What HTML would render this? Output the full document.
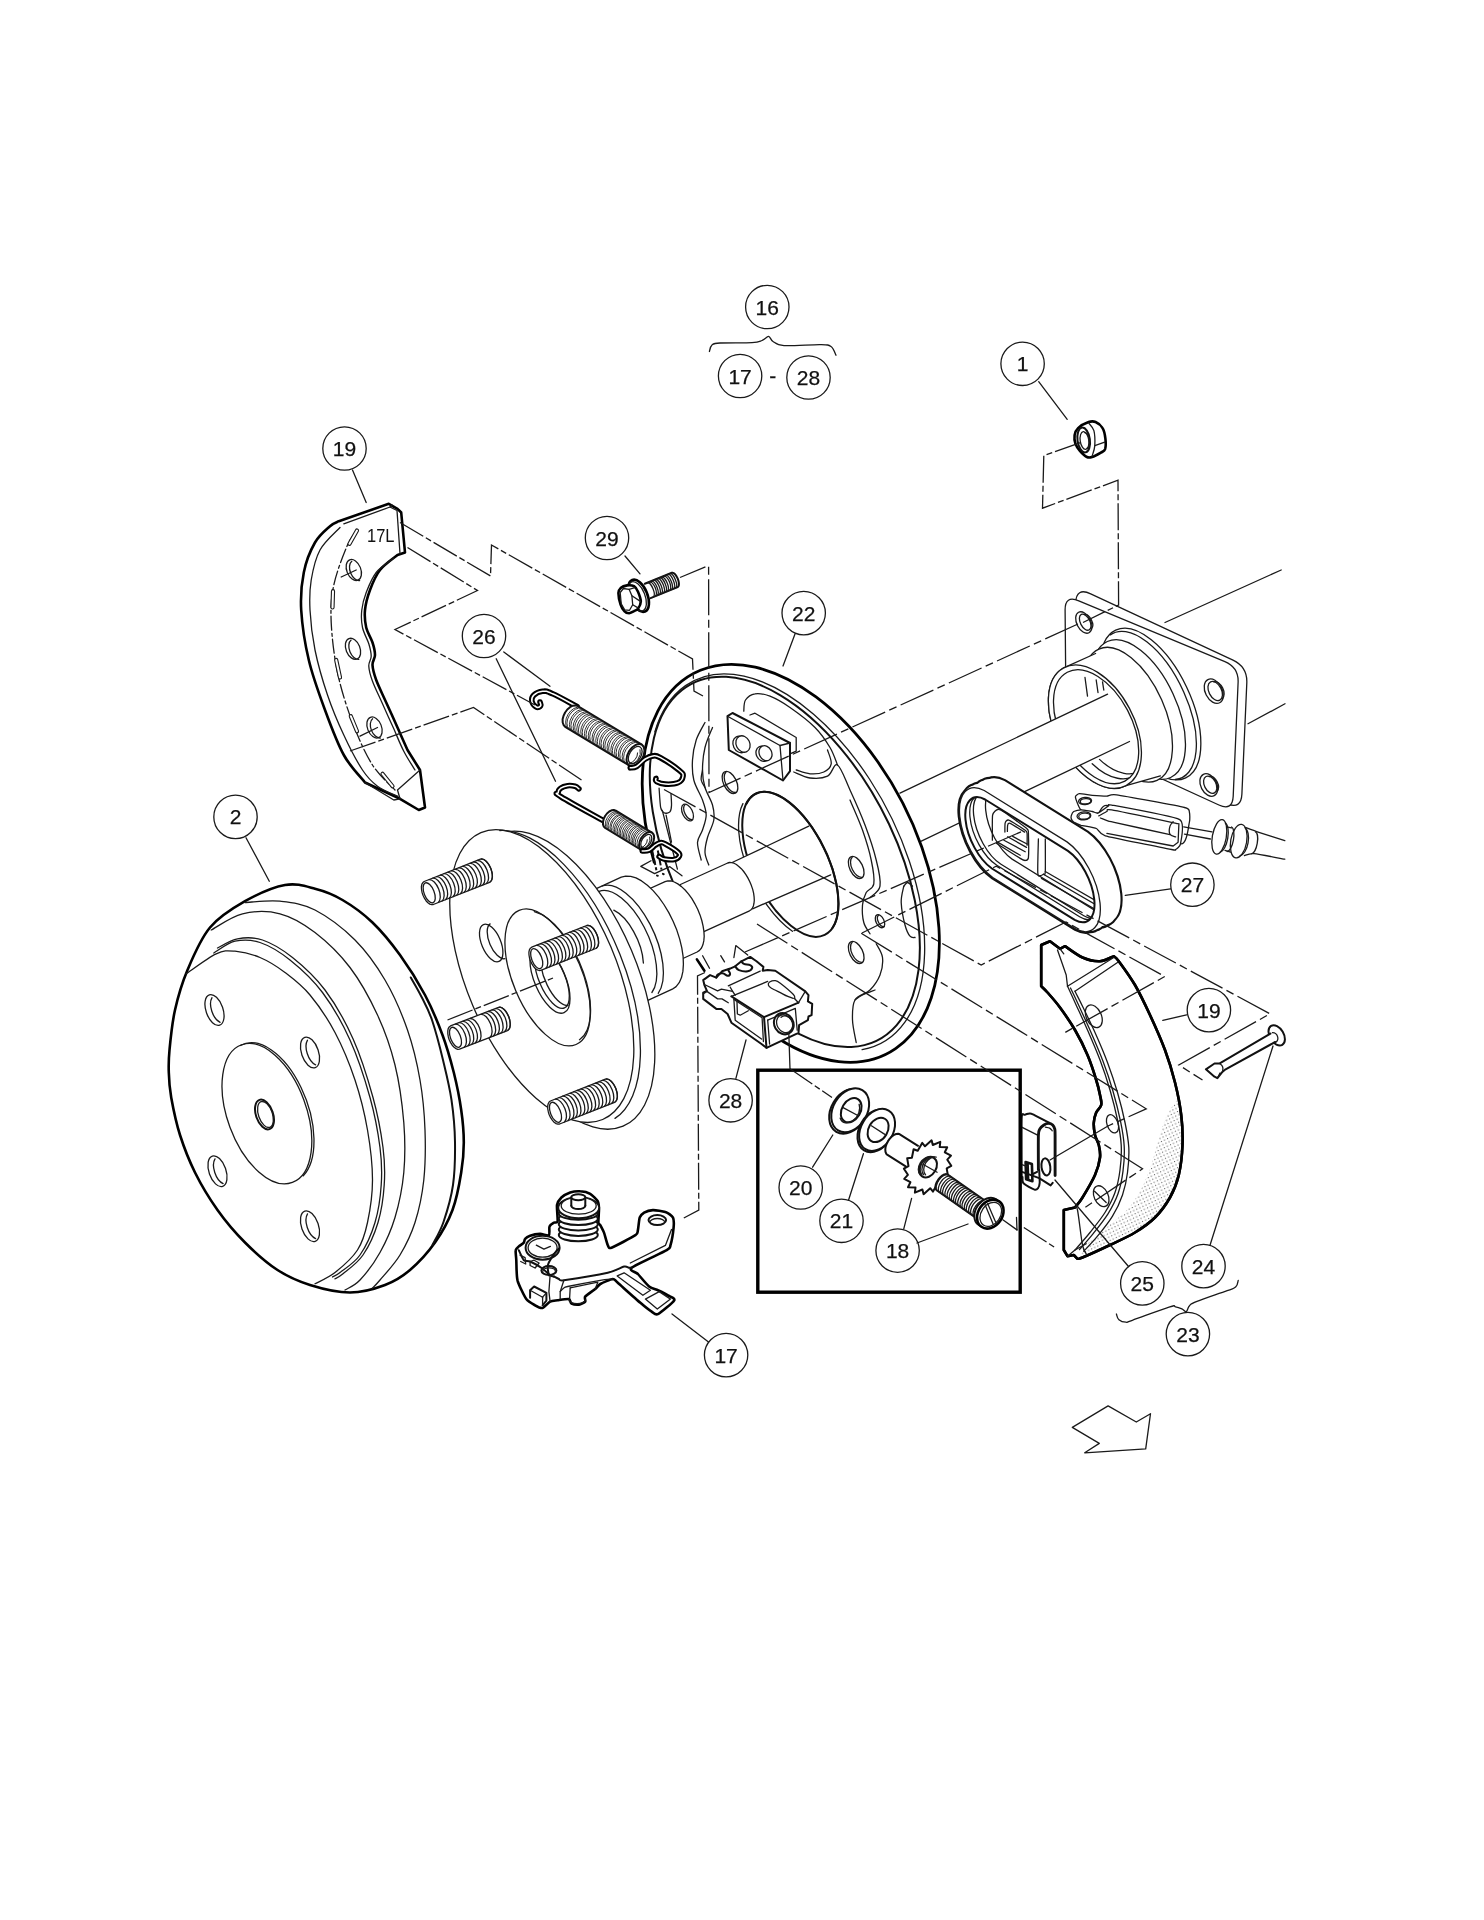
<!DOCTYPE html>
<html><head><meta charset="utf-8"><title>Brake assembly</title>
<style>
html,body{margin:0;padding:0;background:#fff}
svg{display:block;will-change:transform}
.n{fill:none;stroke:#1a1a1a;stroke-width:1.3;stroke-linecap:round;stroke-linejoin:round}
.m{fill:none;stroke:#111;stroke-width:2;stroke-linecap:round;stroke-linejoin:round}
.k{fill:none;stroke:#000;stroke-width:2.6;stroke-linecap:round;stroke-linejoin:round}
.w{fill:#fff}
.d{fill:none;stroke:#1a1a1a;stroke-width:1.3;stroke-dasharray:27 3 6 3}
.d2{stroke-dasharray:36 4.5 8 4.5}
.dk{fill:none;stroke:#111;stroke-width:2;stroke-dasharray:6.5 2.2}
.co{fill:#fff;stroke:#1a1a1a;stroke-width:1.3}
.ct{font-family:"Liberation Sans",Arial,sans-serif;font-size:21px;text-anchor:middle;fill:#111;stroke:#111;stroke-width:0.25px}
.t17{font-family:"Liberation Sans",Arial,sans-serif;font-size:18.3px;fill:#111}
.wire{fill:none;stroke:#000;stroke-width:5.6;stroke-linecap:round;stroke-linejoin:round}
.wirew{fill:none;stroke:#fff;stroke-width:1.5;stroke-linecap:round;stroke-linejoin:round}
.slot{fill:none;stroke:#1a1a1a;stroke-width:4.2;stroke-linecap:round}
.slotw{fill:none;stroke:#fff;stroke-width:2;stroke-linecap:round}
</style></head><body>
<svg width="1484" height="1920" viewBox="0 0 1484 1920">
<rect width="1484" height="1920" fill="#fff"/>
<path class="k w" d="M285 885 C273.3 887.1 257.5 894.2 245 901.2 C232.5 908.3 219.6 916 210 927.5 C200.4 939 193.3 956.2 187.5 970 C181.7 983.8 178 996.7 175 1010 C172 1023.3 170.5 1039.6 169.5 1050 C168.5 1060.4 168.5 1064.6 168.8 1072.5 C169 1080.4 169.4 1087.1 171.2 1097.5 C173.1 1107.9 176 1122.5 180 1135 C184 1147.5 188.8 1160 195 1172.5 C201.2 1185 209.2 1198.3 217.5 1210 C225.8 1221.7 235 1232.5 245 1242.5 C255 1252.5 266.7 1262.9 277.5 1270 C288.3 1277.1 297.9 1281.2 310 1285 C322.1 1288.8 337.5 1292.5 350 1292.5 C362.5 1292.5 375 1288.8 385 1285 C395 1281.2 401.7 1277.1 410 1270 C418.3 1262.9 427.9 1252.5 435 1242.5 C442.1 1232.5 448.1 1221.7 452.5 1210 C456.9 1198.3 459.4 1183.8 461.2 1172.5 C463.1 1161.2 463.8 1152.9 463.8 1142.5 C463.8 1132.1 462.9 1121.7 461.2 1110 C459.6 1098.3 456.9 1085 453.8 1072.5 C450.6 1060 447.3 1047.9 442.5 1035 C437.7 1022.1 432.1 1008.3 425 995 C417.9 981.7 408.8 967.1 400 955 C391.2 942.9 382.1 931.7 372.5 922.5 C362.9 913.3 352.1 905.6 342.5 900 C332.9 894.4 324.6 891.2 315 888.8 C305.4 886.2 296.7 882.9 285 885Z"/>
<path class="n" d="M186.2 973.8 C191.2 970.4 208.1 957.5 216.2 953.8 C224.4 950 227.7 950.6 235 951.2 C242.3 951.9 251.7 954 260 957.5 C268.3 961 276.7 966.2 285 972.5 C293.3 978.8 301.7 985 310 995 C318.3 1005 327.5 1018.3 335 1032.5 C342.5 1046.7 349.6 1063.8 355 1080 C360.4 1096.2 364.6 1113.3 367.5 1130 C370.4 1146.7 372.5 1164.6 372.5 1180 C372.5 1195.4 370 1210.8 367.5 1222.5 C365 1234.2 362.9 1241.7 357.5 1250 C352.1 1258.3 342.1 1266.9 335 1272.5 C327.9 1278.1 318.3 1281.9 315 1283.8"/>
<path class="n" d="M213.8 953 C217.3 951 227.3 943 235 941.2 C242.7 939.5 250.8 939.4 260 942.5 C269.2 945.6 279.6 951.7 290 960 C300.4 968.3 312.5 979.2 322.5 992.5 C332.5 1005.8 342.1 1022.5 350 1040 C357.9 1057.5 365 1079.6 370 1097.5 C375 1115.4 378.1 1132.9 380 1147.5 C381.9 1162.1 382.1 1172.5 381.2 1185 C380.4 1197.5 378.5 1210.8 375 1222.5 C371.5 1234.2 365.8 1246.7 360 1255 C354.2 1263.3 344.6 1268.8 340 1272.5 C335.4 1276.2 333.8 1276.2 332.5 1277"/>
<path class="n" d="M217.5 948 C220.8 946.5 230 940.1 237.5 938.8 C245 937.4 253.3 936.9 262.5 940 C271.7 943.1 282.1 949.2 292.5 957.5 C302.9 965.8 314.9 976.5 325 990 C335.1 1003.5 345 1020.8 353 1038.8 C361 1056.7 368 1079.4 373 1097.5 C378 1115.6 381.1 1132.9 383 1147.5 C384.9 1162.1 385.1 1172.5 384.2 1185 C383.4 1197.5 381.5 1210.8 378 1222.5 C374.5 1234.2 368.8 1246.5 363 1255 C357.2 1263.5 347.7 1269.8 343 1273.8 C338.3 1277.7 336.3 1277.9 335 1278.8"/>
<path class="n" d="M211.2 930 C216.5 927.3 231 916.5 242.5 913.8 C254 911 267.9 910.6 280 913.8 C292.1 916.9 303.3 923.5 315 932.5 C326.7 941.5 339.6 953.8 350 967.5 C360.4 981.2 370 998.8 377.5 1015 C385 1031.2 390.6 1047.1 395 1065 C399.4 1082.9 402.3 1104.6 403.8 1122.5 C405.2 1140.4 405.2 1156.7 403.8 1172.5 C402.3 1188.3 399 1204.2 395 1217.5 C391 1230.8 385.8 1242.1 380 1252.5 C374.2 1262.9 365.8 1273.8 360 1280 C354.2 1286.2 347.5 1288.3 345 1290"/>
<path class="n" d="M245 902.5 C250.8 902.3 268.3 900 280 901.2 C291.7 902.5 302.5 903.5 315 910 C327.5 916.5 343.3 928.3 355 940 C366.7 951.7 376.2 965 385 980 C393.8 995 401.7 1013.3 407.5 1030 C413.3 1046.7 417.1 1063.3 420 1080 C422.9 1096.7 424.4 1113.3 425 1130 C425.6 1146.7 425.4 1164.6 423.8 1180 C422.1 1195.4 419 1210 415 1222.5 C411 1235 405.8 1245.4 400 1255 C394.2 1264.6 384.6 1274.5 380 1280 C375.4 1285.5 373.8 1286.7 372.5 1288"/>
<path class="m" d="M410.8 977.5 C412.5 980.6 417.7 989.2 421.2 996.2 C424.8 1003.3 428.4 1009.4 432 1020 C435.6 1030.6 439.8 1046.7 443 1060 C446.2 1073.3 449.5 1086.3 451.5 1100 C453.5 1113.7 454.8 1127.8 455 1142 C455.2 1156.2 454.9 1171.7 453 1185 C451.1 1198.3 446.9 1212 443.5 1222 C440.1 1232 434.3 1241.2 432.5 1245"/>
<ellipse class="n" cx="266.9" cy="1113.6" rx="39.4" ry="73.4" transform="rotate(-20.3 266.9 1113.6)"/>
<path class="n" d="M240.5 1045.5 A39.4 73.4 -20.3 0 1 303.3 1175.8"/>
<ellipse class="m" cx="264.5" cy="1114.5" rx="8.5" ry="15.5" transform="rotate(-19 264.5 1114.5)"/>
<ellipse class="n" cx="265.5" cy="1114.5" rx="7" ry="13.5" transform="rotate(-19 265.5 1114.5)"/>
<ellipse class="n" cx="214.5" cy="1010" rx="8.5" ry="16" transform="rotate(-19 214.5 1010)"/>
<path class="n" d="M220.1 1022.3 A8 14.5 -19 0 1 212 997.7"/>
<ellipse class="n" cx="310" cy="1052.5" rx="8.5" ry="16" transform="rotate(-19 310 1052.5)"/>
<path class="n" d="M315.6 1064.8 A8 14.5 -19 0 1 307.5 1040.2"/>
<ellipse class="n" cx="217.5" cy="1171.2" rx="8.5" ry="16" transform="rotate(-19 217.5 1171.2)"/>
<path class="n" d="M223.1 1183.6 A8 14.5 -19 0 1 215 1158.9"/>
<ellipse class="n" cx="310" cy="1226.2" rx="8.5" ry="16" transform="rotate(-19 310 1226.2)"/>
<path class="n" d="M315.6 1238.6 A8 14.5 -19 0 1 307.5 1213.9"/>
<path class="k w" d="M338.8 521.2 C337.3 522.1 334 522.7 330 526.2 C326 529.8 319.4 534.8 315 542.5 C310.6 550.2 306 561.2 303.8 572.5 C301.5 583.8 300.4 595.4 301.2 610 C302.1 624.6 304.8 643.3 308.8 660 C312.7 676.7 319.2 694.2 325 710 C330.8 725.8 337.1 742.9 343.8 755 C350.4 767.1 361.5 777.9 365 782.5 L400 798.8 L418.8 810 L425 807.5 L420 770 L407.5 750 C405.8 746.2 401 735.4 397.5 727.5 C394 719.6 389.8 710.4 386.2 702.5 C382.7 694.6 378.5 686.2 376.2 680 C374 673.8 372.7 669.2 372.5 665 C372.3 660.8 375 658.8 375 655 C375 651.2 374 647.1 372.5 642.5 C371 637.9 367.5 632.9 366.2 627.5 C365 622.1 364.4 616.2 365 610 C365.6 603.8 367.5 596.7 370 590 C372.5 583.3 375.4 575.8 380 570 C384.6 564.2 394.6 557.5 397.5 555 L405 552.5 L401.2 512.5 L397.5 508.8 L388.8 503.8Z"/>
<path class="n" d="M340 527.5 C336.7 531.2 324.8 541.2 320 550 C315.2 558.8 312.9 570 311.2 580 C309.6 590 309.4 598.3 310 610 C310.6 621.7 312.1 635.8 315 650 C317.9 664.2 322.7 680.8 327.5 695 C332.3 709.2 337.9 722.5 343.8 735 C349.6 747.5 356.9 761.5 362.5 770 C368.1 778.5 371.7 781.9 377.5 786.2 C383.3 790.6 394.2 794.6 397.5 796.2"/>
<path class="n" d="M393.8 558 C390.8 560.4 380.8 566.8 376.2 572.5 C371.7 578.2 368.7 586.2 366.2 592.5 C363.8 598.8 362.4 604.2 361.8 610 C361.1 615.8 361.3 621.9 362.5 627.5 C363.7 633.1 367.3 639 368.8 643.8 C370.2 648.5 371.2 652.5 371.2 656.2 C371.2 660 368.5 662.1 368.8 666.2 C369 670.4 370.2 675 372.5 681.2 C374.8 687.5 379 695.8 382.5 703.8 C386 711.7 390.2 720.8 393.8 728.8 C397.3 736.7 400.2 744.4 403.8 751.2 C407.3 758.1 413.1 766.9 415 770"/>
<path class="n" d="M357.5 530 C355.8 532.5 351.5 535.8 347.5 545 C343.5 554.2 336.5 572.1 333.8 585 C331 597.9 330.6 607.9 331.2 622.5 C331.9 637.1 334 655.8 337.5 672.5 C341 689.2 346.7 707.1 352.5 722.5 C358.3 737.9 365.4 753.8 372.5 765 C379.6 776.2 391.2 785.8 395 790" style="stroke-dasharray:14 3 3 3"/>
<path class="slot" d="M357 530.5 L349.5 543.8"/>
<path class="slotw" d="M357 530.5 L349.5 543.8"/>
<path class="slot" d="M333 591.2 L332.5 607.5"/>
<path class="slotw" d="M333 591.2 L332.5 607.5"/>
<path class="slot" d="M336.2 660 L340 677.5"/>
<path class="slotw" d="M336.2 660 L340 677.5"/>
<path class="slot" d="M350.8 716.2 L357 731.2"/>
<path class="slotw" d="M350.8 716.2 L357 731.2"/>
<path class="slot" d="M382.5 773.8 L392.5 786.2"/>
<path class="slotw" d="M382.5 773.8 L392.5 786.2"/>
<ellipse class="n" cx="353.8" cy="570" rx="7" ry="11" transform="rotate(-22 353.8 570)"/>
<path class="n" d="M359.6 580.5 A6.5 10.5 -22 0 1 351.8 561.3"/>
<ellipse class="n" cx="353" cy="648.8" rx="7" ry="11" transform="rotate(-22 353 648.8)"/>
<path class="n" d="M358.8 659.3 A6.5 10.5 -22 0 1 351.1 640.1"/>
<ellipse class="n" cx="374.5" cy="727.5" rx="7" ry="11" transform="rotate(-22 374.5 727.5)"/>
<path class="n" d="M380.3 738 A6.5 10.5 -22 0 1 372.6 718.8"/>
<path class="n" d="M341.2 577 L356.2 570"/>
<path class="n" d="M360 736.2 L377.5 727.5"/>
<path class="n" d="M343.8 523.8 L390 507 L397 510.5 L400 553.8"/>
<path class="n" d="M390 507 L392 505"/>
<text class="t17" x="367" y="542" textLength="27.5" lengthAdjust="spacingAndGlyphs">17L</text>
<path class="n" d="M365 782.5 L393.8 800 L400 798.8"/>
<path class="n" d="M400 798.8 L397.5 790 L420 770"/>
<path class="n" d="M1165 622.5 L1281.2 570"/>
<path class="n" d="M1248 723.8 L1285 703.8"/>
<path class="n w" d="M1075.6 603 Q1076.2 587 1090.7 593.8 L1233 660.2 Q1247.5 667 1246.8 683 L1241.9 794 Q1241.2 810 1226.6 803.6 L1084.7 741.4 Q1070 735 1070.7 719 Z"/>
<path class="n w" d="M1065.1 610 Q1065 595 1078.8 600.8 L1224.9 661.7 Q1238.8 667.5 1238.1 682.5 L1233.2 796.3 Q1232.5 811.2 1218.9 805 L1079.9 741.3 Q1066.2 735 1066.1 720 Z"/>
<ellipse class="n w" cx="1150.7" cy="704" rx="39.7" ry="81.7" transform="rotate(-25.4 1150.7 704)"/>
<path class="n" d="M1110.3 634.9 A38.5 80 -25.4 1 1 1175.3 779.5"/>
<ellipse class="n w" cx="1139" cy="709.5" rx="37.5" ry="75" transform="rotate(-25 1139 709.5)"/>
<ellipse class="n w" cx="1128" cy="714.7" rx="36.8" ry="71.8" transform="rotate(-23.9 1128 714.7)"/>
<path class="n w" d="M1095.6 653.5 L1063.7 667.8 L1063.7 667.8 L1059.5 670.7 L1055.9 674.6 L1052.9 679.3 L1050.6 684.9 L1049.1 691.1 L1048.4 698 L1048.5 705.4 L1049.4 713.1 L1051 721.1 L1053.5 729.1 L1056.6 737.2 L1060.3 745 L1064.7 752.5 L1069.6 759.6 L1074.9 766.1 L1080.6 772 L1086.5 777 L1092.5 781.3 L1098.6 784.5 L1104.6 786.8 L1110.5 788.1 L1116.1 788.3 L1121.3 787.4 L1126.1 785.6 L1160.4 775.9"/>
<ellipse class="n w" cx="1094.9" cy="726.7" rx="39.1" ry="66.6" transform="rotate(-27.9 1094.9 726.7)"/>
<ellipse class="n" cx="1096.1" cy="726.7" rx="35.5" ry="61.6" transform="rotate(-27.9 1096.1 726.7)"/>
<clipPath id="bore"><ellipse cx="1096.1" cy="726.7" rx="35.5" ry="61.6" transform="rotate(-27.9 1096.1 726.7)"/></clipPath>
<g clip-path="url(#bore)">
<path class="n" d="M1140.4 715.8 A35.1 60.6 -27.9 0 1 1092.2 763.7"/>
<path class="n" d="M1146.3 713 A34.1 58.6 -27.9 0 1 1099.5 759.4"/>
</g>
<path class="n" d="M1085 677.5 L1087.5 696.2"/>
<path class="n" d="M1096.2 680 L1098 692.5"/>
<path class="n" d="M1102.5 681.8 L1103.8 690"/>
<ellipse class="n" cx="1083.8" cy="622.5" rx="7" ry="11.5" transform="rotate(-27 1083.8 622.5)"/>
<ellipse class="n" cx="1085.2" cy="622.2" rx="4.8" ry="8.7" transform="rotate(-27 1085.2 622.2)"/>
<path class="n" d="M1084.4 614.5 A4.5 8 -27 0 1 1091.5 628.6"/>
<ellipse class="n" cx="1213.8" cy="691.2" rx="8.5" ry="13" transform="rotate(-27 1213.8 691.2)"/>
<ellipse class="n" cx="1215.2" cy="691" rx="6.3" ry="10.2" transform="rotate(-27 1215.2 691)"/>
<path class="n" d="M1213.9 681.8 A6 9.5 -27 0 1 1222.4 698.5"/>
<ellipse class="n" cx="1208.8" cy="785" rx="8" ry="12" transform="rotate(-27 1208.8 785)"/>
<ellipse class="n" cx="1210.2" cy="784.7" rx="5.8" ry="9.2" transform="rotate(-27 1210.2 784.7)"/>
<path class="n" d="M1209.3 776.5 A5.5 8.5 -27 0 1 1216.9 791.4"/>
<path class="w" d="M900 793.1 L1107.6 694.2 L1129.5 741.5 L915 844.2Z" style="stroke:none"/>
<path class="n" d="M900 793.1 L1107.6 694.2"/>
<path class="n" d="M915 844.2 L1129.5 741.5"/>
<path class="n" d="M992.8 877.5 A24.6 51.2 -25 0 1 984.2 790.5 L1067 841.9 A24.6 51.2 -25 0 1 1075.6 928.9 Z M996.1 876 A24.6 51.2 -25 0 1 987.6 788.9 L1070.4 840.3 A24.6 51.2 -25 0 1 1078.9 927.4 Z M999.5 874.4 A24.6 51.2 -25 0 1 991 787.3 L1073.8 838.7 A24.6 51.2 -25 0 1 1082.3 925.8 Z M1002.9 872.8 A24.6 51.2 -25 0 1 994.3 785.8 L1077.1 837.2 A24.6 51.2 -25 0 1 1085.7 924.2 Z M1006.2 871.3 A24.6 51.2 -25 0 1 997.7 784.2 L1080.5 835.6 A24.6 51.2 -25 0 1 1089 922.7 Z M1009.6 869.7 A24.6 51.2 -25 0 1 1001.1 782.6 L1083.9 834 A24.6 51.2 -25 0 1 1092.4 921.1 Z M1013 868.1 A24.6 51.2 -25 0 1 1004.4 781.1 L1087.2 832.5 A24.6 51.2 -25 0 1 1095.8 919.5 Z" style="stroke-width:4.2;stroke:#111"/>
<path class="w" d="M992.8 877.5 A24.6 51.2 -25 0 1 984.2 790.5 L1067 841.9 A24.6 51.2 -25 0 1 1075.6 928.9 Z M996.1 876 A24.6 51.2 -25 0 1 987.6 788.9 L1070.4 840.3 A24.6 51.2 -25 0 1 1078.9 927.4 Z M999.5 874.4 A24.6 51.2 -25 0 1 991 787.3 L1073.8 838.7 A24.6 51.2 -25 0 1 1082.3 925.8 Z M1002.9 872.8 A24.6 51.2 -25 0 1 994.3 785.8 L1077.1 837.2 A24.6 51.2 -25 0 1 1085.7 924.2 Z M1006.2 871.3 A24.6 51.2 -25 0 1 997.7 784.2 L1080.5 835.6 A24.6 51.2 -25 0 1 1089 922.7 Z M1009.6 869.7 A24.6 51.2 -25 0 1 1001.1 782.6 L1083.9 834 A24.6 51.2 -25 0 1 1092.4 921.1 Z M1013 868.1 A24.6 51.2 -25 0 1 1004.4 781.1 L1087.2 832.5 A24.6 51.2 -25 0 1 1095.8 919.5 Z" style="stroke:none"/>
<path class="n" d="M992.8 877.5 A24.6 51.2 -25 0 1 984.2 790.5 L1067 841.9 A24.6 51.2 -25 0 1 1075.6 928.9 Z"/>
<clipPath id="rtc"><path d="M991.9 868.5 A19.5 40.6 -25 0 1 985.1 799.5 L1067.9 850.9 A19.5 40.6 -25 0 1 1074.7 919.9 Z"/></clipPath>
<g clip-path="url(#rtc)">
<path class="n" d="M1012.1 859.1 A19.5 40.6 -25 0 1 1005.3 790.1 L1088.1 841.5 A19.5 40.6 -25 0 1 1094.9 910.5 Z"/>
<path class="n" d="M1001 864.3 A19.5 40.6 -25 0 1 994.2 795.2 L1077 846.6 A19.5 40.6 -25 0 1 1083.8 915.7 Z"/>
<path class="n" d="M996.8 865.3 A19 39.6 -25 0 1 990.3 798 L1073.1 849.4 A19 39.6 -25 0 1 1079.6 916.7 Z"/>
<path class="n" d="M992.4 840.2 C992.4 837.7 992.1 818.2 992.6 815.1 C993.2 812.1 996.5 809.8 997.6 809.5 C998.8 809.2 1001 810.1 1003.9 812 C1006.8 813.9 1024 826.2 1026.5 828.3 C1028.9 830.4 1028.2 829.7 1028.4 832.7 C1028.5 835.6 1028.7 855 1028.4 857.8 C1028 860.5 1026 860.4 1025.2 860.5 C1024.4 860.6 1023.1 860.1 1020.2 858.4 C1017.3 856.7 998.8 844.8 996.4 843.3"/>
<path class="n" d="M1004.9 832.1 C1004.9 831.1 1004.8 823.8 1005.2 822.7 C1005.6 821.5 1006.9 819.4 1008.9 820.2 C1010.9 820.9 1023.4 828.9 1025.2 830.2 C1027 831.5 1026.9 831.8 1027.1 833.3 C1027.3 834.8 1027.1 844 1027.1 845.2"/>
<path class="n" d="M1007.4 831.4 C1007.4 830.8 1007.4 825.7 1007.7 824.9 C1007.9 824.1 1008.5 822.6 1010.2 823.3 C1011.9 824 1023.2 831.2 1024.6 832.1"/>
<path class="n" d="M1003.9 840.2 L1025.2 851.7"/>
<path class="n" d="M1007.7 836.7 L1026.5 847.4"/>
<path class="n" d="M1012.7 836.4 L1027.1 844"/>
<path class="n" d="M997.6 842.1 L1020.2 855.2"/>
<path class="n" d="M1038.4 839 C1038.3 843.5 1037.5 867.9 1037.8 872.8 C1038 877.7 1039.5 875.4 1040.3 875.6 C1041 875.8 1042.7 874.8 1043.4 874.3 C1044.1 873.8 1045 876.3 1045.3 871.5 C1045.5 866.8 1045.3 843.3 1045.3 839"/>
<path class="n" d="M1043.4 874.3 L1100.4 907.3"/>
<path class="n" d="M1041.5 878.4 L1097.9 911"/>
<path class="n" d="M1045.3 871.5 L1101.7 904.1"/>
</g>
<path class="m" d="M991.9 868.5 A19.5 40.6 -25 0 1 985.1 799.5 L1067.9 850.9 A19.5 40.6 -25 0 1 1074.7 919.9 Z"/>
<path class="n w" d="M1075.4 797 C1075.2 795.6 1078 793.9 1079.4 793.7 C1080.8 793.6 1090.1 795.2 1092.3 795.4 C1094.6 795.6 1104.9 796.2 1106.9 796.2 C1108.9 796.1 1110.1 793.9 1116.6 794.9 C1123.1 795.8 1178.5 806 1184.5 807.5 C1190.6 809 1189 811.1 1189.4 812.3 C1189.8 813.6 1190.1 819.4 1189.4 822.1 C1188.6 824.7 1187.2 845.2 1180.5 843.9 C1173.8 842.5 1115.4 808.4 1108.5 805.9 C1101.6 803.3 1100.3 812.8 1098 813.2 C1095.7 813.5 1082.9 811.3 1081 809.9 C1079.1 808.6 1075.5 798.3 1075.4 797Z"/>
<ellipse class="n" cx="1085.1" cy="801" rx="6.5" ry="3.6" transform="rotate(-5 1085.1 801)"/>
<ellipse class="n" cx="1085.6" cy="801.3" rx="5.3" ry="2.6" transform="rotate(-5 1085.6 801.3)"/>
<path class="n" d="M1183.7 826.9 L1212 831.8"/>
<path class="n" d="M1184.5 834.2 L1210.4 839"/>
<path class="n w" d="M1071.3 815.6 C1071.5 815 1072.9 812 1073.7 811.5 C1074.6 811.1 1079.5 809.9 1081 809.9 C1082.6 809.9 1090.9 811.3 1092.3 811.5 C1093.8 811.8 1096.7 813.6 1098 813.2 C1099.4 812.7 1107.4 806.6 1108.5 805.9 C1109.7 805.2 1105.8 803.9 1111.8 805.1 C1117.7 806.2 1174 816.4 1179.7 819.6 C1185.4 822.9 1180.8 841.4 1180.5 843.9 C1180.2 846.4 1176.4 849.1 1175.6 849.5 C1174.9 850 1177.5 850.7 1171.6 849.5 C1165.7 848.4 1111.6 837.6 1105.3 835.8 C1099 834 1098.4 829.4 1096.4 828.5 C1094.4 827.6 1082.9 825.8 1081 825.3 C1079.1 824.7 1074.6 822.6 1073.7 822.1 C1072.9 821.5 1071.5 819.4 1071.3 818.8 C1071.1 818.3 1071.1 816.2 1071.3 815.6Z"/>
<ellipse class="n" cx="1083.9" cy="815.9" rx="6.9" ry="4" transform="rotate(-5 1083.9 815.9)"/>
<ellipse class="n" cx="1084.4" cy="816.2" rx="5.7" ry="3" transform="rotate(-5 1084.4 816.2)"/>
<path class="n" d="M1098.8 815.9 C1099.6 815.5 1105.6 812.1 1106.9 811.5 C1108.2 810.9 1104.6 808.7 1111.8 809.9 C1118.9 811.1 1171.4 822.3 1178.1 823.7"/>
<path class="n" d="M1100.4 818 C1101.2 818.3 1107.1 820.8 1108.5 821.2 C1109.9 821.7 1108 821 1114.2 822.4 C1120.3 823.7 1164.4 833.4 1170 834.7"/>
<path class="n" d="M1173.2 821.7 C1172.7 822.5 1170.5 824 1170 826.1 C1169.4 828.2 1169 832.4 1170 834.2 C1170.9 836 1174.7 836.5 1175.6 836.9"/>
<path class="n" d="M1106.9 833.4 L1173.2 846 L1178.1 842.3 L1178.9 823.7"/>
<ellipse class="n w" cx="1219.3" cy="836.9" rx="7" ry="17.5" transform="rotate(10 1219.3 836.9)"/>
<path class="n" d="M1225.4 823.1 A6 15 10 0 1 1220.3 852.2"/>
<ellipse class="n w" cx="1238.7" cy="841.1" rx="8" ry="17" transform="rotate(10 1238.7 841.1)"/>
<path class="n" d="M1244.9 827.8 A7 14.5 10 0 1 1239.9 855.9"/>
<path class="n" d="M1226.6 826.9 L1231.4 827.9"/>
<path class="n" d="M1225 850.4 L1230.6 852"/>
<path class="n" d="M1231.6 827 A4.5 12.5 10 0 1 1227.2 851.5"/>
<path class="n" d="M1246 827.7 C1247.5 828.3 1252.1 830 1257.3 831.8 C1262.5 833.5 1281.1 839.5 1284.8 840.7"/>
<path class="n" d="M1244.4 855.7 C1245.7 855.4 1248.7 853.1 1254.1 853.6 C1259.5 854.1 1280.7 858.5 1284.8 859.2"/>
<path class="n" d="M1255.5 832 A4 11 10 0 1 1251.7 853.6"/>
<ellipse class="w" cx="790.8" cy="863.4" rx="127.1" ry="213.3" transform="rotate(-26.7 790.8 863.4)" style="stroke:none"/>
<path class="k" d="M654.2 862.3 A127.1 213.3 -26.7 1 1 778.3 1038.5" style="stroke-width:2.8"/>
<path class="m" d="M675.3 887.8 A110.1 201 -27.7 1 1 798.4 1033.6"/>
<path class="n" d="M654.9 731.8 A113.5 204 -27.5 1 1 862.1 1049.6"/>
<ellipse class="m w" cx="790.3" cy="864.3" rx="37.3" ry="78.5" transform="rotate(-26 790.3 864.3)"/>
<path class="n" d="M792.4 931.3 A38 80 -26 0 1 742.9 803.6"/>
<ellipse class="n" cx="730" cy="782.5" rx="6.5" ry="12" transform="rotate(-26 730 782.5)"/>
<path class="n" d="M736 792.4 A6.5 11.5 -26 0 1 726 772"/>
<ellipse class="n" cx="856.2" cy="867.5" rx="6.5" ry="12" transform="rotate(-26 856.2 867.5)"/>
<path class="n" d="M862.2 877.4 A6.5 11.5 -26 0 1 852.3 857"/>
<ellipse class="n" cx="856.2" cy="952.5" rx="6.5" ry="12" transform="rotate(-26 856.2 952.5)"/>
<path class="n" d="M862.2 962.4 A6.5 11.5 -26 0 1 852.3 942"/>
<ellipse class="n" cx="687.5" cy="812.5" rx="5" ry="9" transform="rotate(-26 687.5 812.5)"/>
<path class="n" d="M692.4 819.6 A5 8.5 -26 0 1 685.1 804.6"/>
<ellipse class="n" cx="880" cy="921.2" rx="4" ry="7" transform="rotate(-26 880 921.2)"/>
<path class="n" d="M884.2 926.5 A4 6.5 -26 0 1 878.6 915"/>
<path class="n w" d="M750 715 L755 713.2 L796.2 737.5 L796.2 751.2 L790 753.8 L790 742.5"/>
<path class="m w" d="M727.5 716.2 L732.5 713 L790 743 L790 771.2 L783 780.5 L728.8 750Z"/>
<path class="n" d="M727.5 716.2 L780 745.5 L783 780.5"/>
<path class="n" d="M780 745.5 L790 743"/>
<ellipse class="n" cx="740" cy="744.5" rx="6.8" ry="8.5" transform="rotate(-26 740 744.5)"/>
<ellipse class="n w" cx="743" cy="744" rx="6.8" ry="8.5" transform="rotate(-26 743 744)"/>
<ellipse class="n" cx="762.5" cy="753.8" rx="6.2" ry="7.8" transform="rotate(-26 762.5 753.8)"/>
<ellipse class="n w" cx="765.5" cy="753.2" rx="6.2" ry="7.8" transform="rotate(-26 765.5 753.2)"/>
<path class="n" d="M743.8 711.2 C744 709.4 743.6 702.9 745.5 700 C747.4 697.1 750.9 694.4 755 693.8 C759.1 693.1 764.2 694 770 696.2 C775.8 698.5 782.5 702.3 790 707.5 C797.5 712.7 808.3 720.8 815 727.5 C821.7 734.2 826.2 741.2 830 747.5 C833.8 753.8 836.2 762.1 837.5 765"/>
<path class="n" d="M793.8 772 C796.5 773 804.4 777.3 810 778 C815.6 778.7 822.9 778.4 827.5 776.2 C832.1 774.1 833.8 762.7 837.5 765 C841.2 767.3 845.4 780 850 790 C854.6 800 860.6 813.3 865 825 C869.4 836.7 873.8 849.8 876.2 860 C878.8 870.2 881 880 880 886.2 C879 892.5 871.7 895.6 870 897.5"/>
<path class="n" d="M796.2 770 C798.5 770.6 805.4 773.4 810 773.8 C814.6 774.1 820.2 773.7 823.8 772 C827.3 770.3 830.6 767.4 831.2 763.8 C831.9 760.1 828.1 752.3 827.5 750"/>
<path class="n" d="M850 800 C852.1 805 859 820 862.5 830 C866 840 869.4 851 871.2 860 C873.1 869 874.6 878.3 873.8 883.8 C872.9 889.2 868.1 889 866.2 892.5 C864.4 896 862.9 900 862.5 905 C862.1 910 862.5 917.7 863.8 922.5 C865 927.3 869 931.9 870 933.8"/>
<path class="n" d="M876.2 943.8 C877.3 946 881.9 952.3 882.5 957.5 C883.1 962.7 882.1 969.6 880 975 C877.9 980.4 874.2 985.8 870 990 C865.8 994.2 857.9 995 855 1000 C852.1 1005 852.3 1012.9 852.5 1020 C852.7 1027.1 855.6 1038.8 856.2 1042.5"/>
<path class="n" d="M855 1000 C856.2 999.2 859.2 996.7 862.5 995 C865.8 993.3 872.9 990.8 875 990"/>
<path class="n" d="M903.8 886.2 C903.3 889 901 896 901.2 902.5 C901.5 909 903.5 919.4 905 925 C906.5 930.6 908.3 934.2 910 936.2 C911.7 938.3 914.2 937.3 915 937.5"/>
<path class="n" d="M903.8 886.2 C904.4 885.6 906 882.5 907.5 882.5 C909 882.5 911.7 885.6 912.5 886.2"/>
<path class="n" d="M705 722.5 C703.5 725.4 698.3 733.8 696.2 740 C694.2 746.2 692.9 753.3 692.5 760 C692.1 766.7 692.1 773.3 693.8 780 C695.4 786.7 700.4 794.2 702.5 800 C704.6 805.8 706.2 810 706.2 815 C706.2 820 704 825.4 702.5 830 C701 834.6 697.7 837.5 697.5 842.5 C697.3 847.5 700.6 857.1 701.2 860"/>
<path class="n" d="M712.5 727.5 C711.2 730.8 706.7 740.4 705 747.5 C703.3 754.6 702.5 763.3 702.5 770 C702.5 776.7 703.3 781.7 705 787.5 C706.7 793.3 711 799.6 712.5 805 C714 810.4 714.6 814.6 713.8 820 C712.9 825.4 709 832.1 707.5 837.5 C706 842.9 704.8 847.9 705 852.5 C705.2 857.1 708.1 862.9 708.8 865"/>
<path class="n" d="M702.5 770 C702.3 771.7 700.8 777.1 701.2 780 C701.7 782.9 704.4 786.2 705 787.5"/>
<path class="n" d="M659.1 788.2 C659.3 790.8 660 804.3 660.7 807.6 C661.4 810.9 663.3 812.4 664.5 813 C665.7 813.6 669 812.9 669.9 811.9 C670.8 810.9 671.4 807.9 671.5 805.5 C671.7 803 671 795.2 671 793.6"/>
<path class="n" d="M662.3 810.3 L677.4 869.1"/>
<path class="n" d="M666.1 815.2 L671.5 842.1"/>
<path class="n" d="M651 860.7 L640.8 866.4 L654.6 873.6 L669.9 866.7 L682 875.8"/>
<path class="dk" d="M652.1 850.2 L656.4 870.2"/>
<path class="dk" d="M657.8 850.5 L661.5 869.6"/>
<path class="m" d="M657 875.6 L657.8 875.8"/>
<path class="m" d="M662.9 873.9 L663.7 874.2"/>
<path class="w" d="M729 864 L808.8 826.2 L830.7 874.8 L752.5 908.8Z" style="stroke:none"/>
<path class="n" d="M729 864 L808.8 826.2"/>
<path class="n" d="M752.5 908.8 L830.7 874.8"/>
<path class="m" d="M746.5 803.6 A37.3 78.5 -26 1 1 832.2 928.2"/>
<path class="n w" d="M680.4 884.5 L727.7 863 L727.7 863 L729.6 862.5 L731.7 862.6 L734 863.2 L736.4 864.5 L738.8 866.4 L741.3 868.7 L743.7 871.5 L745.9 874.6 L748 878.1 L749.8 881.8 L751.4 885.6 L752.7 889.4 L753.6 893.2 L754.1 896.8 L754.3 900.2 L754 903.2 L753.4 905.9 L752.4 908.1 L751.1 909.7 L749.5 910.8 L702.2 932.4"/>
<path class="n w" d="M637.8 894 L665.1 881.6 L665.1 881.6 L667.8 880.8 L671 881 L674.3 882 L677.8 883.9 L681.5 886.6 L685.1 890 L688.6 894.1 L691.9 898.7 L694.9 903.8 L697.7 909.3 L700 914.9 L701.8 920.5 L703.1 926.1 L703.9 931.4 L704.2 936.4 L703.8 940.9 L702.9 944.8 L701.5 948 L699.5 950.4 L697.1 952 L669.8 964.5"/>
<path class="n w" d="M584.9 893.8 L621.3 877.2 L621.3 877.2 L625.7 876.1 L630.7 876.3 L636 877.9 L641.6 880.9 L647.4 885.2 L653.1 890.6 L658.7 897.1 L663.9 904.5 L668.8 912.6 L673.1 921.2 L676.8 930.1 L679.7 939.1 L681.8 947.9 L683.1 956.4 L683.4 964.3 L682.9 971.4 L681.5 977.6 L679.2 982.7 L676.1 986.6 L672.3 989.2 L635.9 1005.8"/>
<path class="n" d="M602.2 886 A28.9 61.5 -24.5 0 1 658.2 993.3"/>
<path class="n" d="M599.1 891.3 A27.3 58 -24.5 0 1 651.9 992.5"/>
<path class="n" d="M613.8 910.2 A19 40 -24.5 0 1 643.4 963"/>
<ellipse class="n w" cx="561.1" cy="980.2" rx="76.4" ry="158.6" transform="rotate(-23 561.1 980.2)"/>
<ellipse class="n w" cx="541.8" cy="976.1" rx="75" ry="155.8" transform="rotate(-23 541.8 976.1)"/>
<path class="n" d="M499.8 830.5 A75.3 156.5 -23 0 1 615 1118.4"/>
<ellipse class="n" cx="547.6" cy="977.4" rx="34.5" ry="72.9" transform="rotate(-23 547.6 977.4)"/>
<path class="n" d="M534.3 911.6 A33 70 -23 0 1 579.5 1039.7"/>
<ellipse class="n" cx="550" cy="979.5" rx="15.5" ry="36" transform="rotate(-23 550 979.5)"/>
<ellipse class="n" cx="552" cy="978.5" rx="13" ry="32" transform="rotate(-23 552 978.5)"/>
<path class="n" d="M568.1 1005.4 A12.5 31 -23 0 1 541.7 951.4"/>
<ellipse class="n" cx="491.2" cy="943" rx="9.5" ry="20" transform="rotate(-23 491.2 943)"/>
<path class="n" d="M504.9 958.7 A9 19 -23 0 1 490.1 923.9"/>
<path class="n w" d="M433.3 904.5 L489.6 882.3 L489.6 882.3 L490.9 881.3 L491.8 879.6 L492.3 877.3 L492.3 874.5 L491.7 871.5 L490.8 868.5 L489.4 865.6 L487.7 863 L485.9 861 L483.9 859.6 L482.1 859 L480.4 859.2 L424.2 881.5 L424.2 881.5 L422.9 882.5 L421.9 884.2 L421.4 886.5 L421.5 889.2 L422 892.2 L423 895.3 L424.4 898.2 L426 900.7 L427.9 902.8 L429.8 904.1 L431.7 904.7 L433.3 904.5Z"/>
<ellipse class="n" cx="429.2" cy="892.8" rx="5" ry="10.6" transform="rotate(-21.6 429.2 892.8)"/>
<path class="n" d="M429.2 879.6 A6.2 12.4 -21.6 0 1 438.3 902.4"/>
<path class="n" d="M432.9 878.1 A6.2 12.4 -21.6 0 1 442 901"/>
<path class="n" d="M436.7 876.7 A6.2 12.4 -21.6 0 1 445.7 899.5"/>
<path class="n" d="M440.4 875.2 A6.2 12.4 -21.6 0 1 449.4 898"/>
<path class="n" d="M444.1 873.7 A6.2 12.4 -21.6 0 1 453.1 896.6"/>
<path class="n" d="M447.8 872.3 A6.2 12.4 -21.6 0 1 456.8 895.1"/>
<path class="n" d="M451.5 870.8 A6.2 12.4 -21.6 0 1 460.6 893.6"/>
<path class="n" d="M455.3 869.3 A6.2 12.4 -21.6 0 1 464.3 892.1"/>
<path class="n" d="M459 867.8 A6.2 12.4 -21.6 0 1 468 890.7"/>
<path class="n" d="M462.7 866.4 A6.2 12.4 -21.6 0 1 471.7 889.2"/>
<path class="n" d="M466.4 864.9 A6.2 12.4 -21.6 0 1 475.4 887.7"/>
<path class="n" d="M470.1 863.4 A6.2 12.4 -21.6 0 1 479.2 886.3"/>
<path class="n" d="M473.8 862 A6.2 12.4 -21.6 0 1 482.9 884.8"/>
<path class="n" d="M477.6 860.5 A6.2 12.4 -21.6 0 1 486.6 883.3"/>
<path class="n" d="M481.3 859 A6.2 12.4 -21.6 0 1 490.3 881.9"/>
<path class="n w" d="M540.8 970.3 L595.8 948.5 L595.8 948.5 L597.1 947.5 L598.1 945.8 L598.6 943.5 L598.5 940.8 L598 937.8 L597 934.7 L595.6 931.8 L594 929.3 L592.1 927.2 L590.2 925.9 L588.3 925.3 L586.7 925.5 L531.7 947.2 L531.7 947.2 L530.4 948.2 L529.4 949.9 L528.9 952.2 L529 955 L529.5 958 L530.5 961 L531.9 963.9 L533.5 966.5 L535.4 968.5 L537.3 969.9 L539.2 970.5 L540.8 970.3Z"/>
<ellipse class="n" cx="536.7" cy="958.6" rx="5" ry="10.6" transform="rotate(-21.6 536.7 958.6)"/>
<path class="n" d="M536.7 945.4 A6.2 12.4 -21.6 0 1 545.8 968.2"/>
<path class="n" d="M540.4 943.9 A6.2 12.4 -21.6 0 1 549.4 966.8"/>
<path class="n" d="M544 942.5 A6.2 12.4 -21.6 0 1 553 965.3"/>
<path class="n" d="M547.6 941.1 A6.2 12.4 -21.6 0 1 556.6 963.9"/>
<path class="n" d="M551.2 939.6 A6.2 12.4 -21.6 0 1 560.3 962.5"/>
<path class="n" d="M554.9 938.2 A6.2 12.4 -21.6 0 1 563.9 961"/>
<path class="n" d="M558.5 936.7 A6.2 12.4 -21.6 0 1 567.5 959.6"/>
<path class="n" d="M562.1 935.3 A6.2 12.4 -21.6 0 1 571.2 958.1"/>
<path class="n" d="M565.8 933.9 A6.2 12.4 -21.6 0 1 574.8 956.7"/>
<path class="n" d="M569.4 932.4 A6.2 12.4 -21.6 0 1 578.4 955.3"/>
<path class="n" d="M573 931 A6.2 12.4 -21.6 0 1 582 953.8"/>
<path class="n" d="M576.6 929.6 A6.2 12.4 -21.6 0 1 585.7 952.4"/>
<path class="n" d="M580.3 928.1 A6.2 12.4 -21.6 0 1 589.3 951"/>
<path class="n" d="M583.9 926.7 A6.2 12.4 -21.6 0 1 592.9 949.5"/>
<path class="n" d="M587.5 925.3 A6.2 12.4 -21.6 0 1 596.6 948.1"/>
<path class="n w" d="M459.5 1049.1 L507.5 1030.6 L507.5 1030.6 L508.8 1029.6 L509.8 1027.9 L510.2 1025.6 L510.2 1022.9 L509.7 1019.8 L508.8 1016.8 L507.4 1013.9 L505.8 1011.3 L503.9 1009.2 L502 1007.9 L500.2 1007.2 L498.5 1007.4 L450.5 1025.9 L450.5 1025.9 L449.2 1026.9 L448.2 1028.6 L447.8 1030.9 L447.8 1033.6 L448.3 1036.7 L449.2 1039.7 L450.6 1042.6 L452.2 1045.2 L454.1 1047.3 L456 1048.6 L457.8 1049.3 L459.5 1049.1Z"/>
<ellipse class="n" cx="455.5" cy="1037.3" rx="5" ry="10.6" transform="rotate(-21.1 455.5 1037.3)"/>
<path class="n" d="M455.6 1024.1 A6.2 12.4 -21.1 0 1 464.4 1047"/>
<path class="n" d="M459.2 1022.7 A6.2 12.4 -21.1 0 1 468.1 1045.6"/>
<path class="n" d="M462.9 1021.3 A6.2 12.4 -21.1 0 1 471.7 1044.2"/>
<path class="n" d="M466.5 1019.9 A6.2 12.4 -21.1 0 1 475.4 1042.8"/>
<path class="n" d="M470.2 1018.5 A6.2 12.4 -21.1 0 1 479 1041.4"/>
<path class="n" d="M481.1 1014.3 A6.2 12.4 -21.1 0 1 490 1037.2"/>
<path class="n" d="M484.8 1012.9 A6.2 12.4 -21.1 0 1 493.6 1035.8"/>
<path class="n" d="M488.4 1011.5 A6.2 12.4 -21.1 0 1 497.3 1034.4"/>
<path class="n" d="M492.1 1010 A6.2 12.4 -21.1 0 1 500.9 1033"/>
<path class="n" d="M495.7 1008.6 A6.2 12.4 -21.1 0 1 504.6 1031.6"/>
<path class="n" d="M499.4 1007.2 A6.2 12.4 -21.1 0 1 508.2 1030.1"/>
<path class="n w" d="M559.6 1124 L614.6 1102.3 L614.6 1102.3 L615.9 1101.3 L616.8 1099.6 L617.3 1097.3 L617.3 1094.5 L616.7 1091.5 L615.8 1088.5 L614.4 1085.6 L612.7 1083 L610.9 1081 L608.9 1079.6 L607.1 1079 L605.4 1079.2 L550.4 1101 L550.4 1101 L549.1 1102 L548.2 1103.7 L547.7 1106 L547.7 1108.7 L548.3 1111.7 L549.2 1114.8 L550.6 1117.7 L552.3 1120.2 L554.1 1122.3 L556.1 1123.6 L557.9 1124.2 L559.6 1124Z"/>
<ellipse class="n" cx="555.5" cy="1112.3" rx="5" ry="10.6" transform="rotate(-21.6 555.5 1112.3)"/>
<path class="n" d="M555.5 1099.1 A6.2 12.4 -21.6 0 1 564.5 1121.9"/>
<path class="n" d="M559.1 1097.7 A6.2 12.4 -21.6 0 1 568.1 1120.5"/>
<path class="n" d="M562.7 1096.2 A6.2 12.4 -21.6 0 1 571.8 1119.1"/>
<path class="n" d="M566.4 1094.8 A6.2 12.4 -21.6 0 1 575.4 1117.6"/>
<path class="n" d="M570 1093.4 A6.2 12.4 -21.6 0 1 579 1116.2"/>
<path class="n" d="M573.6 1091.9 A6.2 12.4 -21.6 0 1 582.7 1114.8"/>
<path class="n" d="M577.2 1090.5 A6.2 12.4 -21.6 0 1 586.3 1113.3"/>
<path class="n" d="M580.9 1089.1 A6.2 12.4 -21.6 0 1 589.9 1111.9"/>
<path class="n" d="M584.5 1087.6 A6.2 12.4 -21.6 0 1 593.5 1110.5"/>
<path class="n" d="M588.1 1086.2 A6.2 12.4 -21.6 0 1 597.2 1109"/>
<path class="n" d="M591.8 1084.8 A6.2 12.4 -21.6 0 1 600.8 1107.6"/>
<path class="n" d="M595.4 1083.3 A6.2 12.4 -21.6 0 1 604.4 1106.2"/>
<path class="n" d="M599 1081.9 A6.2 12.4 -21.6 0 1 608.1 1104.7"/>
<path class="n" d="M602.7 1080.4 A6.2 12.4 -21.6 0 1 611.7 1103.3"/>
<path class="n" d="M606.3 1079 A6.2 12.4 -21.6 0 1 615.3 1101.9"/>
<path class="wire" d="M577 706.5 C572.1 704 559.5 696.8 552.6 693.8 C545.7 690.8 546.4 691 542.6 691.3 C538.8 691.6 535.9 693.1 533.8 695.1 C531.7 697.1 531.4 698.9 531.9 701.3 C532.4 703.7 534.5 706.1 536.3 707 C538.1 707.9 540 706.7 540.7 705.7 C541.4 704.7 540.1 702.7 540 702"/>
<path class="wirew" d="M577 706.5 C572.1 704 559.5 696.8 552.6 693.8 C545.7 690.8 546.4 691 542.6 691.3 C538.8 691.6 535.9 693.1 533.8 695.1 C531.7 697.1 531.4 698.9 531.9 701.3 C532.4 703.7 534.5 706.1 536.3 707 C538.1 707.9 540 706.7 540.7 705.7 C541.4 704.7 540.1 702.7 540 702"/>
<path class="m w" d="M641.8 744.7 L577.8 706 L577.8 706 L575.5 705.4 L572.8 705.7 L570 707.2 L567.3 709.5 L565.1 712.5 L563.5 715.9 L562.6 719.3 L562.7 722.5 L563.6 725 L565.2 726.8 L629.2 765.5"/>
<path class="n" d="M579.8 707.4 A7.5 12.1 31.2 0 0 567.4 727.9" style="stroke-width:0.9"/>
<path class="n" d="M581.3 708.3 A7.5 12.1 31.2 0 0 568.9 728.9" style="stroke-width:0.9"/>
<path class="n" d="M583.6 709.7 A7.5 12.1 31.2 0 0 571.2 730.2" style="stroke-width:0.9"/>
<path class="n" d="M585.1 710.6 A7.5 12.1 31.2 0 0 572.7 731.1" style="stroke-width:0.9"/>
<path class="n" d="M587.3 712 A7.5 12.1 31.2 0 0 574.9 732.5" style="stroke-width:0.9"/>
<path class="n" d="M588.9 712.9 A7.5 12.1 31.2 0 0 576.5 733.4" style="stroke-width:0.9"/>
<path class="n" d="M591.1 714.2 A7.5 12.1 31.2 0 0 578.7 734.8" style="stroke-width:0.9"/>
<path class="n" d="M592.6 715.2 A7.5 12.1 31.2 0 0 580.2 735.7" style="stroke-width:0.9"/>
<path class="n" d="M594.9 716.5 A7.5 12.1 31.2 0 0 582.5 737" style="stroke-width:0.9"/>
<path class="n" d="M596.4 717.5 A7.5 12.1 31.2 0 0 584 738" style="stroke-width:0.9"/>
<path class="n" d="M598.6 718.8 A7.5 12.1 31.2 0 0 586.2 739.3" style="stroke-width:0.9"/>
<path class="n" d="M600.2 719.7 A7.5 12.1 31.2 0 0 587.8 740.2" style="stroke-width:0.9"/>
<path class="n" d="M602.4 721.1 A7.5 12.1 31.2 0 0 590 741.6" style="stroke-width:0.9"/>
<path class="n" d="M603.9 722 A7.5 12.1 31.2 0 0 591.5 742.5" style="stroke-width:0.9"/>
<path class="n" d="M606.2 723.4 A7.5 12.1 31.2 0 0 593.8 743.9" style="stroke-width:0.9"/>
<path class="n" d="M607.7 724.3 A7.5 12.1 31.2 0 0 595.3 744.8" style="stroke-width:0.9"/>
<path class="n" d="M609.9 725.6 A7.5 12.1 31.2 0 0 597.5 746.1" style="stroke-width:0.9"/>
<path class="n" d="M611.5 726.6 A7.5 12.1 31.2 0 0 599.1 747.1" style="stroke-width:0.9"/>
<path class="n" d="M613.7 727.9 A7.5 12.1 31.2 0 0 601.3 748.4" style="stroke-width:0.9"/>
<path class="n" d="M615.2 728.8 A7.5 12.1 31.2 0 0 602.8 749.3" style="stroke-width:0.9"/>
<path class="n" d="M617.4 730.2 A7.5 12.1 31.2 0 0 605 750.7" style="stroke-width:0.9"/>
<path class="n" d="M619 731.1 A7.5 12.1 31.2 0 0 606.6 751.6" style="stroke-width:0.9"/>
<path class="n" d="M621.2 732.5 A7.5 12.1 31.2 0 0 608.8 753" style="stroke-width:0.9"/>
<path class="n" d="M622.8 733.4 A7.5 12.1 31.2 0 0 610.4 753.9" style="stroke-width:0.9"/>
<path class="n" d="M625 734.7 A7.5 12.1 31.2 0 0 612.6 755.2" style="stroke-width:0.9"/>
<path class="n" d="M626.5 735.7 A7.5 12.1 31.2 0 0 614.1 756.2" style="stroke-width:0.9"/>
<path class="n" d="M628.7 737 A7.5 12.1 31.2 0 0 616.3 757.5" style="stroke-width:0.9"/>
<path class="n" d="M630.3 737.9 A7.5 12.1 31.2 0 0 617.9 758.4" style="stroke-width:0.9"/>
<path class="n" d="M632.5 739.3 A7.5 12.1 31.2 0 0 620.1 759.8" style="stroke-width:0.9"/>
<path class="n" d="M634 740.2 A7.5 12.1 31.2 0 0 621.6 760.7" style="stroke-width:0.9"/>
<path class="n" d="M636.3 741.6 A7.5 12.1 31.2 0 0 623.9 762.1" style="stroke-width:0.9"/>
<path class="n" d="M637.8 742.5 A7.5 12.1 31.2 0 0 625.4 763" style="stroke-width:0.9"/>
<ellipse class="m w" cx="635.5" cy="755.1" rx="7.5" ry="12.1" transform="rotate(31.2 635.5 755.1)"/>
<ellipse class="n" cx="635.2" cy="755.1" rx="5.7" ry="9.5" transform="rotate(31.2 635.2 755.1)"/>
<path class="n" d="M640.1 749.7 A6.5 9.6 31.2 0 1 629.1 763.8" style="stroke-width:1"/>
<path class="n" d="M637.6 752.9 A6.5 8.6 31.2 0 1 629.4 763.2" style="stroke-width:1"/>
<path class="wire" d="M630.3 767.8 C631.6 767.5 633.6 768.3 636.6 766.5 C639.6 764.7 642 761.1 645.3 759 C648.6 756.9 649.9 756.2 652.9 755.9 C655.9 755.6 655.1 754.8 660.4 757.7 C665.7 760.6 674.7 766.5 679.2 770.3 C683.7 774.1 683.3 774 683 776.5 C682.7 779 681.4 781.3 677.9 782.8 C674.4 784.3 669.7 784.3 665.4 784.1 C661.1 783.9 658.5 782.7 656.6 781.6 C654.7 780.5 656.1 779 656 778.4"/>
<path class="wirew" d="M630.3 767.8 C631.6 767.5 633.6 768.3 636.6 766.5 C639.6 764.7 642 761.1 645.3 759 C648.6 756.9 649.9 756.2 652.9 755.9 C655.9 755.6 655.1 754.8 660.4 757.7 C665.7 760.6 674.7 766.5 679.2 770.3 C683.7 774.1 683.3 774 683 776.5 C682.7 779 681.4 781.3 677.9 782.8 C674.4 784.3 669.7 784.3 665.4 784.1 C661.1 783.9 658.5 782.7 656.6 781.6 C654.7 780.5 656.1 779 656 778.4"/>
<path class="wire" d="M578.9 788.8 C578.1 788.3 577.4 786.9 575.1 786.3 C572.8 785.7 570.5 785.3 567.6 785.7 C564.7 786.1 562.6 786.8 560.7 788.2 C558.8 789.6 558.1 790.8 558.2 792.6 C558.3 794.4 552.1 791.3 561.3 797 C570.5 802.7 595.5 816.2 604 821"/>
<path class="wirew" d="M578.9 788.8 C578.1 788.3 577.4 786.9 575.1 786.3 C572.8 785.7 570.5 785.3 567.6 785.7 C564.7 786.1 562.6 786.8 560.7 788.2 C558.8 789.6 558.1 790.8 558.2 792.6 C558.3 794.4 552.1 791.3 561.3 797 C570.5 802.7 595.5 816.2 604 821"/>
<path class="m w" d="M651.9 832.6 L615.8 810.6 L615.8 810.6 L613.9 810 L611.6 810.3 L609.3 811.5 L607 813.5 L605.1 816 L603.7 818.9 L603 821.8 L603 824.4 L603.8 826.6 L605.2 828 L641.3 850"/>
<path class="n" d="M617.2 811.6 A6.3 10.2 31.4 0 0 606.7 828.8" style="stroke-width:0.9"/>
<path class="n" d="M618.8 812.5 A6.3 10.2 31.4 0 0 608.3 829.8" style="stroke-width:0.9"/>
<path class="n" d="M620.3 813.4 A6.3 10.2 31.4 0 0 609.7 830.7" style="stroke-width:0.9"/>
<path class="n" d="M621.8 814.4 A6.3 10.2 31.4 0 0 611.3 831.6" style="stroke-width:0.9"/>
<path class="n" d="M623.3 815.2 A6.3 10.2 31.4 0 0 612.7 832.5" style="stroke-width:0.9"/>
<path class="n" d="M624.8 816.2 A6.3 10.2 31.4 0 0 614.3 833.4" style="stroke-width:0.9"/>
<path class="n" d="M626.3 817.1 A6.3 10.2 31.4 0 0 615.8 834.3" style="stroke-width:0.9"/>
<path class="n" d="M627.8 818 A6.3 10.2 31.4 0 0 617.3 835.3" style="stroke-width:0.9"/>
<path class="n" d="M629.3 818.9 A6.3 10.2 31.4 0 0 618.8 836.2" style="stroke-width:0.9"/>
<path class="n" d="M630.8 819.9 A6.3 10.2 31.4 0 0 620.3 837.1" style="stroke-width:0.9"/>
<path class="n" d="M632.3 820.7 A6.3 10.2 31.4 0 0 621.8 838" style="stroke-width:0.9"/>
<path class="n" d="M633.8 821.7 A6.3 10.2 31.4 0 0 623.3 838.9" style="stroke-width:0.9"/>
<path class="n" d="M635.3 822.6 A6.3 10.2 31.4 0 0 624.8 839.8" style="stroke-width:0.9"/>
<path class="n" d="M636.8 823.5 A6.3 10.2 31.4 0 0 626.3 840.8" style="stroke-width:0.9"/>
<path class="n" d="M638.3 824.4 A6.3 10.2 31.4 0 0 627.8 841.7" style="stroke-width:0.9"/>
<path class="n" d="M639.8 825.4 A6.3 10.2 31.4 0 0 629.3 842.6" style="stroke-width:0.9"/>
<path class="n" d="M641.3 826.2 A6.3 10.2 31.4 0 0 630.8 843.5" style="stroke-width:0.9"/>
<path class="n" d="M642.8 827.2 A6.3 10.2 31.4 0 0 632.3 844.4" style="stroke-width:0.9"/>
<path class="n" d="M644.3 828.1 A6.3 10.2 31.4 0 0 633.8 845.3" style="stroke-width:0.9"/>
<path class="n" d="M645.9 829 A6.3 10.2 31.4 0 0 635.3 846.3" style="stroke-width:0.9"/>
<path class="n" d="M647.3 829.9 A6.3 10.2 31.4 0 0 636.8 847.2" style="stroke-width:0.9"/>
<path class="n" d="M648.9 830.9 A6.3 10.2 31.4 0 0 638.4 848.1" style="stroke-width:0.9"/>
<ellipse class="m w" cx="646.6" cy="841.3" rx="6.3" ry="10.2" transform="rotate(31.4 646.6 841.3)"/>
<ellipse class="n" cx="646.3" cy="841.3" rx="4.5" ry="7.6" transform="rotate(31.4 646.3 841.3)"/>
<path class="n" d="M649.8 837 A5.3 7.7 31.4 0 1 640.9 848.3" style="stroke-width:1"/>
<path class="n" d="M647.3 839.7 A5.3 6.7 31.4 0 1 640.9 847.6" style="stroke-width:1"/>
<path class="wire" d="M642.2 850.9 C643.6 850.8 646.4 851.3 649 850.2 C651.6 849.1 653 846.7 655.3 845.2 C657.6 843.7 658.3 842.9 660.3 842.7 C662.3 842.5 661.8 842.1 665.3 844 C668.8 845.9 675.1 849.6 677.9 852.1 C680.7 854.6 679.9 855 679.1 856.5 C678.3 858 677.1 859.1 674.1 859.6 C671.1 860.1 667.1 859.6 664.1 859 C661.1 858.4 660.1 857 659.1 856.5"/>
<path class="wirew" d="M642.2 850.9 C643.6 850.8 646.4 851.3 649 850.2 C651.6 849.1 653 846.7 655.3 845.2 C657.6 843.7 658.3 842.9 660.3 842.7 C662.3 842.5 661.8 842.1 665.3 844 C668.8 845.9 675.1 849.6 677.9 852.1 C680.7 854.6 679.9 855 679.1 856.5 C678.3 858 677.1 859.1 674.1 859.6 C671.1 860.1 667.1 859.6 664.1 859 C661.1 858.4 660.1 857 659.1 856.5"/>
<path class="m w" d="M644.8 583.8 L671.9 572.8 L671.9 572.8 L672.9 572.8 L674.2 573.4 L675.5 574.8 L676.7 576.6 L677.8 578.7 L678.5 581 L678.9 583.1 L678.9 585 L678.5 586.3 L677.7 587.1 L650.6 598.1"/>
<path class="n" d="M669.8 573.7 A3.2 7.7 157.9 0 1 675.6 587.9"/>
<path class="n" d="M667.8 574.5 A3.2 7.7 157.9 0 1 673.6 588.7"/>
<path class="n" d="M665.8 575.3 A3.2 7.7 157.9 0 1 671.5 589.5"/>
<path class="n" d="M663.7 576.1 A3.2 7.7 157.9 0 1 669.5 590.4"/>
<path class="n" d="M661.7 577 A3.2 7.7 157.9 0 1 667.4 591.2"/>
<path class="n" d="M659.6 577.8 A3.2 7.7 157.9 0 1 665.4 592"/>
<path class="n" d="M657.6 578.6 A3.2 7.7 157.9 0 1 663.4 592.8"/>
<path class="n" d="M655.6 579.5 A3.2 7.7 157.9 0 1 661.3 593.7"/>
<path class="n" d="M653.5 580.3 A3.2 7.7 157.9 0 1 659.3 594.5"/>
<path class="n" d="M651.5 581.1 A3.2 7.7 157.9 0 1 657.2 595.3"/>
<path class="n" d="M649.4 581.9 A3.2 7.7 157.9 0 1 655.2 596.2"/>
<path class="n" d="M647.4 582.8 A3.2 7.7 157.9 0 1 653.2 597"/>
<ellipse class="k w" cx="638.6" cy="595.8" rx="8.8" ry="17" transform="rotate(157.9 638.6 595.8)"/>
<ellipse class="n" cx="637" cy="596.4" rx="8" ry="15.5" transform="rotate(157.9 637 596.4)"/>
<path class="k w" d="M618.4 593 C618.4 590.7 619.5 589.1 620.6 588.1 C621.8 587.1 625.3 585.7 627.1 585.4 C628.9 585.2 632.5 585.4 634 586.2 C635.4 587.1 637.1 589.7 638 591.7 C638.9 593.8 640.8 599.2 640.8 601.4 C640.8 603.7 638.9 607.4 638 608.7 C637.1 610 635.1 610.5 634 611.1 C632.8 611.7 630.4 613.2 629.1 613.2 C627.8 613.2 625.4 612.3 624.3 611.1 C623.1 610 621.4 607.1 620.6 604.7 C619.8 602.2 618.4 595.2 618.4 593Z"/>
<path class="n" d="M620.2 592.5 L623.4 588.5 L629.1 589.3 L631.9 595.8 L632.7 604.7 L629.5 610.3 L624.7 609.9 L621.2 603.9Z"/>
<path class="n" d="M629.1 589.3 L634.8 587.7"/>
<path class="n" d="M631.9 595.8 L640.4 601.4"/>
<path class="n" d="M632.7 604.7 L638 607.9"/>
<path class="k w" d="M1074.6 435.1 C1075 432.5 1075.8 430.3 1078.1 428.1 C1080.4 425.9 1085.7 423 1088.6 422 C1091.5 421 1093.3 421 1095.6 422 C1098 423 1101 425.3 1102.6 428.1 C1104.3 430.9 1105 435.1 1105.4 438.6 C1105.8 442.1 1105.8 446.8 1105.1 449.1 C1104.3 451.5 1103 451.3 1100.9 452.6 C1098.7 453.9 1094.5 456.3 1092.1 457 C1089.8 457.7 1088.9 458 1086.9 457 C1084.8 456 1081.8 453.1 1079.9 450.9 C1078 448.7 1076.4 446.5 1075.5 443.9 C1074.6 441.2 1074.2 437.7 1074.6 435.1Z"/>
<ellipse class="m" cx="1083.7" cy="440" rx="6.2" ry="12.5" transform="rotate(-8 1083.7 440)"/>
<ellipse class="n" cx="1084.5" cy="440.5" rx="4.3" ry="9" transform="rotate(-8 1084.5 440.5)"/>
<path class="n" d="M1084.6 432.6 A3.8 8 -8 0 1 1086.8 448.4"/>
<path class="n" d="M1088.6 422.9 C1089.5 424.2 1092.9 426.9 1093.9 430.7 C1094.9 434.5 1095 441.4 1094.8 445.6 C1094.5 449.9 1092.6 454.4 1092.1 456.1"/>
<path class="n" d="M1094.8 445.6 L1104.7 442.1"/>
<path class="k w" d="M1113.8 956.2 C1114.6 957.1 1115.2 956.5 1118.8 961.2 C1122.3 966 1129.8 976 1135 985 C1140.2 994 1145 1004.2 1150 1015 C1155 1025.8 1160.8 1038.8 1165 1050 C1169.2 1061.2 1172.3 1071.7 1175 1082.5 C1177.7 1093.3 1180 1104.6 1181.2 1115 C1182.5 1125.4 1182.9 1135 1182.5 1145 C1182.1 1155 1180.8 1166.2 1178.8 1175 C1176.7 1183.8 1174 1190.4 1170 1197.5 C1166 1204.6 1160.8 1211.7 1155 1217.5 C1149.2 1223.3 1142.5 1227.9 1135 1232.5 C1127.5 1237.1 1118.8 1240.8 1110 1245 C1101.2 1249.2 1087.9 1255.2 1082.5 1257.5 C1077.1 1259.8 1078.3 1258.5 1077.5 1258.8 L1073.8 1255 L1067.5 1256.2 L1063.8 1250 L1063.8 1210 L1075 1207.5 L1075 1207.5 C1076.2 1205.8 1079.2 1202.9 1082.5 1197.5 C1085.8 1192.1 1092.1 1181.7 1095 1175 C1097.9 1168.3 1099.4 1162.5 1100 1157.5 C1100.6 1152.5 1099.6 1148.8 1098.8 1145 C1097.9 1141.2 1095.8 1138.8 1095 1135 C1094.2 1131.2 1093.5 1126.2 1093.8 1122.5 C1094 1118.8 1095 1115.4 1096.2 1112.5 C1097.5 1109.6 1100.6 1107.9 1101.2 1105 C1101.9 1102.1 1100.8 1099.2 1100 1095 C1099.2 1090.8 1098.3 1086.7 1096.2 1080 C1094.2 1073.3 1091 1063.3 1087.5 1055 C1084 1046.7 1079.6 1037.9 1075 1030 C1070.4 1022.1 1064.6 1013.8 1060 1007.5 C1055.4 1001.2 1050.6 996 1047.5 992.5 C1044.4 989 1042.3 987.3 1041.2 986.2 L1041.2 945 L1050 941.2 L1060 948.8 L1065 946.2 L1065 946.2 C1067.9 948.1 1076.7 955 1082.5 957.5 C1088.3 960 1094.8 961.5 1100 961.2 C1105.2 961 1111.5 957.1 1113.8 956.2Z"/>
<pattern id="stp" width="4.8" height="4.8" patternUnits="userSpaceOnUse" patternTransform="rotate(20)"><circle cx="1" cy="1" r="0.6" fill="#444"/><circle cx="3.4" cy="3.4" r="0.6" fill="#444"/></pattern>
<path d="M1178.8 1101.2 C1177.5 1099.4 1176.1 1100.7 1173.8 1104 C1171.4 1107.3 1167.2 1114.6 1164.5 1121 C1161.8 1127.4 1160 1135.2 1157.8 1142.5 C1155.5 1149.8 1153.6 1158.1 1151.2 1165 C1148.9 1171.9 1146.2 1178.3 1143.8 1183.8 C1141.2 1189.2 1139 1193.4 1136.2 1197.8 C1133.5 1202.1 1130.1 1206.5 1127 1210 C1123.9 1213.5 1120.7 1215.8 1117.5 1218.5 C1114.3 1221.2 1111.1 1223.4 1108 1226 C1104.9 1228.6 1102.2 1231.3 1098.8 1234.2 C1095.3 1237.2 1090.3 1240.6 1087.5 1243.8 C1084.7 1246.9 1083.7 1250.5 1082 1253 C1080.3 1255.5 1077.4 1258 1077.5 1258.8 C1077.6 1259.5 1077.1 1259.8 1082.5 1257.5 C1087.9 1255.2 1101.2 1249.2 1110 1245 C1118.8 1240.8 1127.5 1237.1 1135 1232.5 C1142.5 1227.9 1149.2 1223.3 1155 1217.5 C1160.8 1211.7 1166 1204.6 1170 1197.5 C1174 1190.4 1176.7 1183.8 1178.8 1175 C1180.8 1166.2 1182.1 1155 1182.5 1145 C1182.9 1135 1181.9 1122.3 1181.2 1115 C1180.6 1107.7 1180 1103.1 1178.8 1101.2Z" fill="url(#stp)" stroke="none"/>
<path class="k" d="M1113.8 956.2 C1114.6 957.1 1115.2 956.5 1118.8 961.2 C1122.3 966 1129.8 976 1135 985 C1140.2 994 1145 1004.2 1150 1015 C1155 1025.8 1160.8 1038.8 1165 1050 C1169.2 1061.2 1172.3 1071.7 1175 1082.5 C1177.7 1093.3 1180 1104.6 1181.2 1115 C1182.5 1125.4 1182.9 1135 1182.5 1145 C1182.1 1155 1180.8 1166.2 1178.8 1175 C1176.7 1183.8 1174 1190.4 1170 1197.5 C1166 1204.6 1160.8 1211.7 1155 1217.5 C1149.2 1223.3 1142.5 1227.9 1135 1232.5 C1127.5 1237.1 1118.8 1240.8 1110 1245 C1101.2 1249.2 1087.9 1255.2 1082.5 1257.5 C1077.1 1259.8 1078.3 1258.5 1077.5 1258.8 L1073.8 1255 L1067.5 1256.2 L1063.8 1250 L1063.8 1210 L1075 1207.5 L1075 1207.5 C1076.2 1205.8 1079.2 1202.9 1082.5 1197.5 C1085.8 1192.1 1092.1 1181.7 1095 1175 C1097.9 1168.3 1099.4 1162.5 1100 1157.5 C1100.6 1152.5 1099.6 1148.8 1098.8 1145 C1097.9 1141.2 1095.8 1138.8 1095 1135 C1094.2 1131.2 1093.5 1126.2 1093.8 1122.5 C1094 1118.8 1095 1115.4 1096.2 1112.5 C1097.5 1109.6 1100.6 1107.9 1101.2 1105 C1101.9 1102.1 1100.8 1099.2 1100 1095 C1099.2 1090.8 1098.3 1086.7 1096.2 1080 C1094.2 1073.3 1091 1063.3 1087.5 1055 C1084 1046.7 1079.6 1037.9 1075 1030 C1070.4 1022.1 1064.6 1013.8 1060 1007.5 C1055.4 1001.2 1050.6 996 1047.5 992.5 C1044.4 989 1042.3 987.3 1041.2 986.2 L1041.2 945 L1050 941.2 L1060 948.8 L1065 946.2 L1065 946.2 C1067.9 948.1 1076.7 955 1082.5 957.5 C1088.3 960 1094.8 961.5 1100 961.2 C1105.2 961 1111.5 957.1 1113.8 956.2Z"/>
<path class="n" d="M1067.5 986.2 C1068.8 989 1071.7 995.2 1075 1002.5 C1078.3 1009.8 1083.3 1020.4 1087.5 1030 C1091.7 1039.6 1096.2 1050 1100 1060 C1103.8 1070 1107.1 1080 1110 1090 C1112.9 1100 1115.6 1110.8 1117.5 1120 C1119.4 1129.2 1120.8 1136.7 1121.2 1145 C1121.7 1153.3 1121 1162.1 1120 1170 C1119 1177.9 1117.5 1185.4 1115 1192.5 C1112.5 1199.6 1109.2 1205.8 1105 1212.5 C1100.8 1219.2 1095 1226.2 1090 1232.5 C1085 1238.8 1077.5 1247.1 1075 1250"/>
<path class="n" d="M1070.5 988 C1071.8 990.6 1074.7 996.5 1078 1003.8 C1081.3 1011 1086.3 1021.7 1090.5 1031.2 C1094.7 1040.8 1099.2 1051.2 1103 1061.2 C1106.8 1071.2 1110.1 1081.2 1113 1091.2 C1115.9 1101.2 1118.6 1112.1 1120.5 1121.2 C1122.4 1130.4 1123.8 1137.9 1124.2 1146.2 C1124.7 1154.6 1124 1163.3 1123 1171.2 C1122 1179.2 1120.5 1186.7 1118 1193.8 C1115.5 1200.8 1112.2 1207.1 1108 1213.8 C1103.8 1220.4 1097.8 1227.8 1093 1233.8 C1088.2 1239.7 1081.8 1246.9 1079.5 1249.5"/>
<path class="n" d="M1075 991.2 C1076.2 993.8 1079.2 999.4 1082.5 1006.2 C1085.8 1013.1 1090.8 1023.1 1095 1032.5 C1099.2 1041.9 1103.8 1052.5 1107.5 1062.5 C1111.2 1072.5 1114.6 1082.5 1117.5 1092.5 C1120.4 1102.5 1123.1 1113.3 1125 1122.5 C1126.9 1131.7 1128.3 1139.2 1128.8 1147.5 C1129.2 1155.8 1128.5 1164.6 1127.5 1172.5 C1126.5 1180.4 1125 1187.7 1122.5 1195 C1120 1202.3 1116.7 1209.4 1112.5 1216.2 C1108.3 1223.1 1102.3 1230.4 1097.5 1236.2 C1092.7 1242.1 1086 1248.8 1083.8 1251.2"/>
<path class="n" d="M1067.5 986.2 L1113.8 957.5"/>
<path class="n" d="M1075 991.2 L1117.5 962.5"/>
<path class="n" d="M1057.5 950 L1066.2 975 L1067.5 986.2"/>
<path class="n" d="M1060 948.8 L1063.8 953.8"/>
<path class="n" d="M1075 1207.5 C1075.4 1207.9 1076.2 1203.8 1077.5 1210 C1078.8 1216.2 1081 1237.7 1082.5 1245 C1084 1252.3 1085.6 1252.3 1086.2 1253.8"/>
<path class="n" d="M1067.5 1256.2 L1075 1250 L1086.2 1243.8"/>
<ellipse class="n" cx="1093.8" cy="1016.2" rx="7.5" ry="12" transform="rotate(-25 1093.8 1016.2)"/>
<ellipse class="n" cx="1112.5" cy="1123.8" rx="5.5" ry="9.5" transform="rotate(-20 1112.5 1123.8)"/>
<ellipse class="n" cx="1101.2" cy="1196.2" rx="7" ry="11" transform="rotate(-25 1101.2 1196.2)"/>
<path class="n" d="M1094.5 1191.2 L1106.2 1202.5"/>
<ellipse class="m w" cx="1276.7" cy="1035.4" rx="7" ry="11" transform="rotate(-30.5 1276.7 1035.4)"/>
<path class="m w" d="M1270.4 1033.6 L1219.7 1063.4 L1214.5 1063.5 L1205.9 1069.3 L1214.5 1076.7 L1217.4 1078.2 L1222.6 1071.7 L1225.6 1069.3 L1275.2 1042"/>
<path class="n" d="M1272.4 1032.6 A4.3 5.2 -30.5 0 1 1274.8 1042.5"/>
<path class="n" d="M1219.7 1063.4 C1220.4 1064.3 1221.8 1064.5 1222.6 1066.7 C1223.4 1068.9 1222.6 1070.4 1222.6 1071.7"/>
<path class="n" d="M1217.4 1078.2 L1220 1073"/>
<path class="m w" d="M1021.7 1178.1 C1021.7 1172.1 1021.4 1124 1021.7 1117.7 C1022 1111.4 1023.8 1115.3 1024.6 1114.8 C1025.4 1114.4 1029 1113.6 1029.8 1113.5 C1030.6 1113.5 1030.9 1113.4 1032.9 1114.3 C1034.9 1115.3 1047.9 1122.1 1049.6 1122.9"/>
<path class="n" d="M1021.7 1127.1 L1038.1 1135.4"/>
<path class="n" d="M1038.4 1169.8 C1038.4 1165.8 1038.2 1140.2 1038.4 1135.4 C1038.5 1130.7 1039 1130.4 1039.7 1129.2 C1040.3 1128 1042.8 1125.7 1043.9 1125 C1044.9 1124.3 1047.5 1123.4 1048.5 1123.4 C1049.6 1123.4 1052 1124.3 1052.7 1125 C1053.4 1125.7 1054.5 1128 1054.8 1129.2 C1055.1 1130.4 1055 1130 1055.1 1135.4 C1055.1 1140.8 1055.1 1170.8 1055.1 1175.5" style="stroke-width:2.9;stroke:#111"/>
<path class="n" d="M1045.4 1127.1 C1046.1 1127.3 1048.5 1127.5 1049.6 1128.1 C1050.7 1128.7 1051.8 1130.3 1052.2 1130.7"/>
<ellipse class="m" cx="1045.9" cy="1166.9" rx="4.4" ry="8.6" transform="rotate(-8 1045.9 1166.9)"/>
<path class="n" d="M1025.6 1162 L1031.9 1164.1 L1032.4 1181.2 L1026.1 1179.2Z" style="stroke-width:2.6;stroke:#111"/>
<path class="n" d="M1027.7 1164.1 L1028.2 1179.2" style="stroke-width:2.4;stroke:#111"/>
<path class="n" d="M1022 1164.6 L1027.2 1166.7"/>
<path class="m" d="M1022 1171.9 L1039.2 1178.1 L1050.6 1185.4 L1052.7 1182.8"/>
<path class="m" d="M1022.5 1177.1 C1022.6 1177.9 1021.9 1181.7 1023.5 1183.3 C1025.1 1185 1032.5 1189 1034.5 1189.6 C1036.4 1190.2 1037.4 1188.9 1038.1 1188 C1038.8 1187.1 1039.5 1185.2 1039.7 1182.8 C1039.8 1180.4 1039.2 1171.5 1039.2 1169.8"/>
<path class="m" d="M1032.9 1174 L1037.1 1171.9"/>
<path class="m w" d="M703.2 980.1 L710.1 975.1 L716.3 977.6 L722 971.3 L729.5 968.8 L735.2 966.3 L741.4 961.3 L750.2 956.9 L756.5 961.3 L763.4 966.9 L762.7 970.7 L767.7 970.1 L775.3 970.7 L805.3 991.4 L808.5 995.2 L807.9 1001.4 L812.2 1003.9 L811.6 1015.2 L808.5 1016.5 L807.9 1020.2 L799.1 1025.2 L798.5 1032.8 L766.5 1047.8 L761.5 1044 L731.4 1022.7 L727.6 1014 L721.4 1008.9 L716.3 1008.9 L703.2 998.9 L703.2 992.6 L706.9 990.8 L704.4 985.1Z"/>
<path class="m" d="M716.3 977.6 C716.6 977 716.3 975.3 717.6 974.5 C718.9 973.6 720.6 973 722.6 973.2 C724.6 973.5 726.1 975.6 727.6 975.7 C729.1 975.8 730 975 730.1 973.8 C730.3 972.7 728.4 971.1 728.3 970.1 C728.1 969.1 729.3 969.1 729.5 968.8"/>
<path class="m" d="M735.2 966.3 C735.9 967.1 736.4 969.1 738.9 970.1 C741.4 971.1 745.1 971.7 747.7 971.3 C750.3 971 751.6 969.5 752.1 968.2 C752.6 966.9 751.8 965.9 750.2 965.1 C748.6 964.2 745.7 964.6 743.9 963.8 C742.2 963.1 741.9 961.8 741.4 961.3"/>
<path class="n" d="M704.4 984.5 L717.6 990.8 L721.4 989.1 L732.6 991.4 L735.2 995.2"/>
<path class="n" d="M728.3 985.8 L760.2 971.1"/>
<path class="n" d="M730.1 987 L732.6 991.4"/>
<path class="n" d="M703.2 993.9 L706.9 991.4 L717.6 998.9 L722 998.9 L728.3 1002.7"/>
<path class="m" d="M731.4 996.4 L764 1017.1 L798.5 1002.7"/>
<path class="m" d="M764 1017.1 L766.5 1047.8"/>
<path class="n" d="M731.4 996.4 L767.7 981.4"/>
<path class="n" d="M733.9 999.5 L762.1 1017.7 L763.4 1041.5"/>
<path class="n" d="M733.9 999.5 L735.2 1020.2 L761.5 1039"/>
<path class="n" d="M737 1002 L737.4 1014 L740.2 1015.2 L748.3 1010.8"/>
<path class="n" d="M767.7 1020.2 L769.6 1044"/>
<path class="n" d="M767.7 1020.2 L795.3 1008.3 L797.2 1030.2"/>
<path class="n" d="M793.4 998.3 C792.5 998 790 997.3 787.8 996.4 C785.6 995.5 783 994 780.3 992.6 C777.6 991.3 773.5 989.5 771.5 988.3 C769.5 987 768.7 986.2 768.4 985.1 C768.1 984.1 768.5 982.7 769.6 982 C770.8 981.3 773.5 980.5 775.3 980.7 C777 980.9 777.2 980.9 780.3 983.2 C783.3 985.5 791 992 793.4 994.5 C795.8 997.1 794.5 998 794.7 998.7"/>
<path class="n" d="M794.7 998.7 L798.5 1002.7"/>
<path class="n" d="M798.5 1002.7 L805.3 991.4"/>
<ellipse class="m" cx="783.8" cy="1023.7" rx="9.5" ry="11" transform="rotate(-30 783.8 1023.7)"/>
<ellipse class="n" cx="784.6" cy="1023.7" rx="7.6" ry="9.3" transform="rotate(-30 784.6 1023.7)"/>
<path class="n" d="M781.1 1017.3 A6.5 8.2 -30 1 1 790.2 1030.8"/>
<path class="k" d="M696.9 959.4 L704.4 970.7"/>
<path class="n" d="M702.6 955.7 L709.5 968.2"/>
<path class="n" d="M720.7 955.7 L724.5 961.9"/>
<path class="n" d="M733.9 957.5 L735.8 945.6 L747.7 955"/>
<path class="k w" d="M516.3 1260.2 C516.1 1256.7 515.4 1251.8 515.7 1250.2 C515.9 1248.6 517.8 1247.3 518.8 1246.4 C519.7 1245.6 523.1 1243.5 523.8 1242.7 C524.5 1241.8 524.3 1239.7 525.1 1238.9 C525.8 1238.1 528.3 1236.4 530.1 1235.8 C531.8 1235.2 537.9 1234 540.1 1233.9 C542.3 1233.8 547.8 1236 548.9 1235.2 C550 1234.3 548.9 1227.8 549.5 1226.4 C550.1 1224.9 552.9 1223.2 553.9 1222.6 C554.8 1222 557.3 1223.4 557.6 1221.4 C558 1219.3 556.6 1207.8 557 1205.1 C557.5 1202.3 559.9 1199 561.4 1197.5 C562.9 1196.1 568 1193.3 570.2 1192.5 C572.4 1191.8 577.9 1191.1 580.2 1191.3 C582.5 1191.4 588.2 1192.6 590.2 1193.8 C592.3 1195 596.7 1199.6 597.8 1201.3 C598.8 1203.1 598.9 1206.3 599 1208.8 C599.1 1211.3 598.2 1220.7 598.4 1222.6 C598.5 1224.5 599.6 1224 600.3 1225.1 C600.9 1226.3 603.1 1230.3 604 1232.6 C604.9 1235 606.9 1243.4 607.8 1245.2 C608.7 1246.9 608.3 1248.9 611.5 1247.7 C614.8 1246.5 632.3 1237.2 635.4 1235.2 C638.4 1233.1 637.4 1232.2 637.9 1230.1 C638.4 1228.1 639 1219.7 639.7 1217.6 C640.5 1215.6 642.6 1213.5 644.1 1212.6 C645.7 1211.7 650.4 1210.2 652.9 1210.1 C655.4 1210 663.1 1211.1 665.4 1212 C667.8 1212.8 672 1215.8 673 1217.6 C673.9 1219.4 673.9 1224.4 673.6 1227.6 C673.3 1230.8 671.3 1242.5 670.5 1245.2 C669.7 1247.8 671.2 1247.6 666.7 1250.2 C662.2 1252.8 635 1265 631.6 1267.7 C628.2 1270.5 635.8 1271.8 637.9 1274 C639.9 1276.2 646.8 1284.6 649.1 1286.5 C651.5 1288.4 655.7 1289.3 657.9 1290.3 C660.1 1291.3 666 1294.1 667.9 1295.3 C669.8 1296.5 675.4 1298.1 674.2 1300.3 C673 1302.5 660.6 1312.8 657.9 1314.1 C655.3 1315.4 653.7 1312.9 651.7 1311.6 C649.6 1310.3 644.3 1306.2 640.4 1302.8 C636.4 1299.5 621 1285.6 617.8 1282.8 C614.6 1280 614.8 1278.9 612.8 1279 C610.7 1279.2 602.3 1282.9 600.3 1284 C598.2 1285.2 597 1287.6 595.2 1289 C593.5 1290.5 586.4 1295.1 585.2 1296.6 C584.1 1298 586 1300.6 585.2 1301.6 C584.5 1302.5 580.6 1304.5 579 1304.7 C577.3 1304.9 572.6 1304.1 571.4 1303.5 C570.3 1302.8 570.5 1299.4 568.9 1299.1 C567.3 1298.7 559.8 1300 557.6 1300.3 C555.5 1300.6 551.9 1300.7 550.1 1301.6 C548.4 1302.5 544.4 1307.4 542.6 1307.9 C540.8 1308.3 537 1306.4 535.1 1305.3 C533.2 1304.3 528.4 1302 526.3 1299.1 C524.3 1296.2 518.7 1284.8 517.5 1280.3 C516.4 1275.7 516.5 1263.7 516.3 1260.2Z"/>
<path class="m" d="M553.9 1276.5 C554.5 1276.8 557.7 1278.6 558.9 1279 C560.1 1279.5 558.2 1281 563.9 1280.3 C569.6 1279.5 600.8 1274.4 607.8 1272.8 C614.8 1271.1 621.6 1267.1 624.1 1266.5 C626.6 1265.9 628.2 1267.6 629.1 1267.7 C630 1267.9 631.3 1267.7 631.6 1267.7"/>
<path class="n" d="M560.2 1291.6 C560.6 1291.1 563 1288.6 563.9 1288 C564.8 1287.5 563.4 1287.4 567.7 1286.5 C571.9 1285.6 595 1281.2 600.3 1280.3 C605.5 1279.4 611.3 1279.2 612.8 1279"/>
<path class="n" d="M563.9 1280.3 L560.2 1291.6 L560.2 1299.1"/>
<path class="n" d="M570.2 1287.8 L597.8 1282.2 L595.2 1289"/>
<path class="n" d="M570.2 1287.8 L569.6 1298.5"/>
<path class="m" d="M518.8 1250.2 C519.4 1251.4 522.5 1258.9 523.8 1260.2 C525.1 1261.5 528 1260.6 530.1 1261.5 C532.1 1262.4 539 1266.1 541.3 1267.7 C543.7 1269.3 548.7 1274.2 550.1 1275.3 C551.6 1276.3 553.4 1276.4 553.9 1276.5"/>
<path class="n" d="M550.1 1275.3 L548.9 1291.6 L550.1 1301.6"/>
<path class="n" d="M530.1 1261.5 L534.1 1260.2 L539.1 1263 L535.1 1268 L530.1 1265.5Z"/>
<path class="n" d="M520 1255.2 L525.1 1257.7 L525.7 1264 L520.7 1261.5"/>
<ellipse class="m" cx="542.6" cy="1247.7" rx="17" ry="12" transform="rotate(0 542.6 1247.7)"/>
<ellipse class="n" cx="542.6" cy="1247.7" rx="14.5" ry="9.5" transform="rotate(0 542.6 1247.7)"/>
<path class="m" d="M559.1 1248.3 C558.2 1249.5 555.1 1252.4 553.3 1255.2 C551.4 1258 548.6 1261.9 547.9 1265.2 C547.1 1268.6 548.7 1273.6 548.9 1275.3"/>
<path class="n" d="M536.3 1245.2 L543.9 1249.2 L550.4 1246.4"/>
<ellipse class="m" cx="548.9" cy="1270.5" rx="7.5" ry="4.5" transform="rotate(0 548.9 1270.5)"/>
<path class="n" d="M542.9 1271.3 A6.2 3.4 0 0 1 555.3 1271.3"/>
<ellipse class="m w" cx="578.3" cy="1235" rx="19.5" ry="6.3" transform="rotate(0 578.3 1235)"/>
<ellipse class="m w" cx="578.3" cy="1229.6" rx="19.5" ry="6.3" transform="rotate(0 578.3 1229.6)"/>
<ellipse class="m w" cx="578.3" cy="1224.2" rx="19.5" ry="6.3" transform="rotate(0 578.3 1224.2)"/>
<ellipse class="m w" cx="578.3" cy="1218.8" rx="19.5" ry="6.3" transform="rotate(0 578.3 1218.8)"/>
<ellipse class="m w" cx="578.3" cy="1213.4" rx="19.5" ry="6.3" transform="rotate(0 578.3 1213.4)"/>
<ellipse class="m w" cx="578.7" cy="1207.7" rx="20.5" ry="10.5" transform="rotate(0 578.7 1207.7)"/>
<ellipse class="n w" cx="578.7" cy="1205.7" rx="17.5" ry="8.5" transform="rotate(0 578.7 1205.7)"/>
<path class="m w" d="M571.3 1205.8 L571.3 1197.3 L585.3 1197.3 L585.3 1205.8"/>
<path class="m" d="M585.3 1205.8 A7 3.2 0 0 1 571.3 1205.8"/>
<ellipse class="m w" cx="578.3" cy="1197.3" rx="7" ry="3" transform="rotate(0 578.3 1197.3)"/>
<path class="n" d="M630.3 1263 L665.4 1245.4 L671.5 1229.5"/>
<ellipse class="m" cx="657.3" cy="1220.1" rx="8.8" ry="5" transform="rotate(0 657.3 1220.1)"/>
<path class="n" d="M649.9 1222.1 A7.4 3.6 0 0 1 664.7 1222.1"/>
<path class="n" d="M617.2 1275.9 L624.1 1272.8 L650.4 1290.3 L642.9 1295.3Z"/>
<path class="n" d="M645.4 1299.1 L659.2 1291.6 L670.5 1299.1 L657.3 1309.1Z"/>
<path class="m" d="M530.1 1297.8 L530.1 1290.3 L534.1 1286.5 L546.4 1292.8 L546.4 1300.6 L542.6 1305.3"/>
<path class="n" d="M530.1 1290.3 L542.6 1297.2 L546.4 1292.8"/>
<path class="n" d="M542.6 1297.2 L542.6 1305.3"/>
<path class="n" d="M585.3 1299.7 A8.2 4 0 0 1 568.9 1299.7"/>
<rect x="757.8" y="1070.2" width="262.4" height="222" fill="none" stroke="#000" stroke-width="3.4"/>
<path class="n" d="M1072.3 1427.4 L1108.1 1405.9 L1136.3 1422 L1150.5 1413.7 L1145.7 1448.8 L1084.7 1452.8 L1099.3 1443.4Z"/>
<ellipse class="m w" cx="848.6" cy="1111.2" rx="17.5" ry="24" transform="rotate(31 848.6 1111.2)"/>
<ellipse class="m w" cx="850.2" cy="1110.2" rx="17" ry="23.5" transform="rotate(31 850.2 1110.2)"/>
<ellipse class="m" cx="851.2" cy="1110.2" rx="9.3" ry="13" transform="rotate(31 851.2 1110.2)"/>
<path class="n" d="M859.1 1104.3 A9 12.5 31 0 1 840.2 1118.2"/>
<ellipse class="m w" cx="875.9" cy="1130.7" rx="16.5" ry="23" transform="rotate(31 875.9 1130.7)"/>
<ellipse class="m w" cx="877.1" cy="1129.9" rx="16" ry="22.5" transform="rotate(31 877.1 1129.9)"/>
<ellipse class="m" cx="878.1" cy="1129.9" rx="9.5" ry="13" transform="rotate(31 878.1 1129.9)"/>
<path class="m w" d="M918 1145.8 L899.8 1134.3 L899.8 1134.3 L898.1 1133.8 L896.2 1134 L894 1134.9 L891.8 1136.5 L889.8 1138.7 L888 1141.2 L886.6 1144 L885.6 1146.8 L885.3 1149.5 L885.5 1151.8 L886.2 1153.7 L887.5 1154.9 L905.7 1166.4"/>
<path class="m w" d="M943.3 1176.7 L941.6 1185.3 L937.5 1183.7 L933 1191.6 L930.2 1188.2 L923.6 1194.2 L922.4 1189.5 L914.9 1192.7 L915.5 1187.4 L908 1187.3 L910.4 1182.2 L904.2 1178.9 L907.9 1174.8 L903.9 1168.7 L908.5 1166.2 L907.2 1158.3 L911.9 1157.8 L913.6 1149.2 L917.7 1150.8 L922.2 1142.9 L925 1146.3 L931.6 1140.3 L932.8 1145 L940.3 1141.8 L939.7 1147.1 L947.2 1147.2 L944.8 1152.3 L951 1155.6 L947.3 1159.7 L951.3 1165.8 L946.7 1168.3 L948 1176.2Z"/>
<ellipse class="m" cx="928.1" cy="1167.2" rx="8" ry="11" transform="rotate(31 928.1 1167.2)"/>
<path class="n" d="M920.2 1174.9 A7.5 10.5 31 0 1 930.8 1157.2"/>
<path class="n" d="M922 1174.9 A7.5 10.5 31 0 1 932.6 1157.2"/>
<path class="n" d="M923.8 1174.9 A7.5 10.5 31 0 1 934.4 1157.2"/>
<path class="n" d="M925.6 1174.9 A7.5 10.5 31 0 1 936.2 1157.2"/>
<path class="m w" d="M936.6 1190.3 L977.1 1218.6 L988.1 1202.8 L947.7 1174.5 L947.7 1174.5 L946.2 1174.1 L944.3 1174.4 L942.2 1175.6 L940.1 1177.4 L938.2 1179.7 L936.7 1182.2 L935.7 1184.8 L935.4 1187.2 L935.7 1189 L936.6 1190.3Z"/>
<path class="n" d="M937.1 1190.6 A4.8 9.6 35 0 1 948.1 1174.9"/>
<path class="n" d="M939.3 1192.1 A4.8 9.6 35 0 1 950.3 1176.4"/>
<path class="n" d="M941.5 1193.6 A4.8 9.6 35 0 1 952.4 1177.9"/>
<path class="n" d="M943.6 1195.1 A4.8 9.6 35 0 1 954.6 1179.4"/>
<path class="n" d="M945.8 1196.6 A4.8 9.6 35 0 1 956.7 1180.9"/>
<path class="n" d="M947.9 1198.1 A4.8 9.6 35 0 1 958.9 1182.5"/>
<path class="n" d="M950.1 1199.6 A4.8 9.6 35 0 1 961 1184"/>
<path class="n" d="M952.2 1201.1 A4.8 9.6 35 0 1 963.2 1185.5"/>
<path class="n" d="M954.4 1202.6 A4.8 9.6 35 0 1 965.4 1187"/>
<path class="n" d="M956.5 1204.2 A4.8 9.6 35 0 1 967.5 1188.5"/>
<path class="n" d="M958.7 1205.7 A4.8 9.6 35 0 1 969.7 1190"/>
<path class="n" d="M960.9 1207.2 A4.8 9.6 35 0 1 971.8 1191.5"/>
<path class="n" d="M963 1208.7 A4.8 9.6 35 0 1 974 1193"/>
<path class="n" d="M965.2 1210.2 A4.8 9.6 35 0 1 976.1 1194.5"/>
<path class="n" d="M967.3 1211.7 A4.8 9.6 35 0 1 978.3 1196"/>
<path class="n" d="M969.5 1213.2 A4.8 9.6 35 0 1 980.4 1197.5"/>
<path class="n" d="M971.6 1214.7 A4.8 9.6 35 0 1 982.6 1199"/>
<path class="n" d="M973.8 1216.2 A4.8 9.6 35 0 1 984.8 1200.6"/>
<path class="n" d="M975.9 1217.7 A4.8 9.6 35 0 1 986.9 1202.1"/>
<ellipse class="m w" cx="987.3" cy="1212.1" rx="11.5" ry="15.5" transform="rotate(35 987.3 1212.1)"/>
<ellipse class="k w" cx="990.3" cy="1214.1" rx="12" ry="15.5" transform="rotate(35 990.3 1214.1)"/>
<ellipse class="n" cx="990.8" cy="1214.4" rx="9.6" ry="13" transform="rotate(35 990.8 1214.4)"/>
<path class="n" d="M985 1204.6 L993.1 1223.9"/>
<path class="n" d="M987.6 1203.6 L995.7 1222.2"/>
<path class="n" d="M1116.4 1314 C1116.9 1315.1 1117 1318.1 1118.9 1319.7 C1120.8 1321.3 1123.2 1322.1 1125.9 1322.2 C1128.6 1322.3 1123.7 1323.3 1132.3 1320.3 C1140.9 1317.3 1160.4 1309.8 1169 1307.1 C1177.6 1304.4 1172.9 1306.4 1175.5 1306.8 C1178.1 1307.2 1179.7 1307.9 1181.9 1308.9 C1184.1 1309.9 1184.8 1312.2 1186.3 1311.6 C1187.8 1311 1187.4 1307.7 1189.5 1305.7 C1191.6 1303.7 1189.5 1304.4 1197 1301.4 C1204.5 1298.4 1219.4 1293.5 1227.2 1290.6 C1235 1287.7 1233.6 1288.8 1235.8 1286.8 C1238 1284.8 1237.7 1281.7 1238.2 1280.4"/>
<path class="d" d="M1080.5 442.7 L1043.8 455.6 L1042.5 508.2 L1118 480.2 L1118.6 605 L1083 622.5"/>
<path class="d d2" d="M1078 624 L709 792.5 L708.6 565.6 L680 577.5"/>
<path class="d" d="M400 522.5 L490.5 576 L491.5 545 L692.5 659 L694 691 L703 696"/>
<path class="d" d="M407.5 547.5 L477.5 590.5 L395 629.5 L535 705"/>
<path class="d" d="M350 751 L473.5 707.5 L583 781"/>
<path class="d d2" d="M664 789.5 L981.2 965 L1066 922 L1164.8 976.5 L1065 1032.5"/>
<path class="d d2" d="M862 933 L996.2 866.2 L1270 1013.8 L1178.8 1065 L1202.5 1080"/>
<path class="d d2" d="M757 924 L1142.5 1168.8 L1085 1207.5"/>
<path class="d d2" d="M861.2 933.3 L1146.2 1108.8 L1108 1126"/>
<path class="d d2" d="M745 952 L1022.5 831.2"/>
<path class="d" d="M447.5 1020 L553 978"/>
<path class="d" d="M705 972.5 L697.5 976 L698.8 1210 L683.8 1218"/>
<path class="d" d="M1023.8 1227.5 L1055 1247.5"/>
<path class="n" d="M788.8 1032.5 L790 1068.8"/>
<path class="d" d="M790 1068.8 L832 1097.5"/>
<path class="n" d="M843.1 1107.6 L858.3 1115.7"/>
<path class="n" d="M871.4 1125.8 L885.6 1134.9"/>
<path class="n" d="M922.9 1164.2 L937.1 1172.3"/>
<path class="n" d="M1002.8 1219.8 L1017 1229.9"/>
<path class="n" d="M1016.5 1217.5 L1017 1230"/>
<path class="n" d="M1108 1126 L1050 1160"/>
<circle class="co" cx="767.3" cy="307" r="21.7"/>
<text class="ct" x="767.3" y="314.5">16</text>
<circle class="co" cx="740.1" cy="376" r="21.7"/>
<text class="ct" x="740.1" y="383.5">17</text>
<circle class="co" cx="808.5" cy="377.5" r="21.7"/>
<text class="ct" x="808.5" y="385">28</text>
<circle class="co" cx="1022.6" cy="363.8" r="21.7"/>
<text class="ct" x="1022.6" y="371.3">1</text>
<circle class="co" cx="344.5" cy="448.5" r="21.7"/>
<text class="ct" x="344.5" y="456">19</text>
<circle class="co" cx="607" cy="538" r="21.7"/>
<text class="ct" x="607" y="545.5">29</text>
<circle class="co" cx="803.7" cy="613.1" r="21.7"/>
<text class="ct" x="803.7" y="620.6">22</text>
<circle class="co" cx="484" cy="636" r="21.7"/>
<text class="ct" x="484" y="643.5">26</text>
<circle class="co" cx="235.5" cy="816.9" r="21.7"/>
<text class="ct" x="235.5" y="824.4">2</text>
<circle class="co" cx="1192.4" cy="884.7" r="21.7"/>
<text class="ct" x="1192.4" y="892.2">27</text>
<circle class="co" cx="1208.9" cy="1010.1" r="21.7"/>
<text class="ct" x="1208.9" y="1017.6">19</text>
<circle class="co" cx="730.6" cy="1100.3" r="21.7"/>
<text class="ct" x="730.6" y="1107.8">28</text>
<circle class="co" cx="800.7" cy="1187.5" r="21.7"/>
<text class="ct" x="800.7" y="1195">20</text>
<circle class="co" cx="841.5" cy="1220.8" r="21.7"/>
<text class="ct" x="841.5" y="1228.3">21</text>
<circle class="co" cx="897.6" cy="1250.6" r="21.7"/>
<text class="ct" x="897.6" y="1258.1">18</text>
<circle class="co" cx="1142.3" cy="1283.4" r="21.7"/>
<text class="ct" x="1142.3" y="1290.9">25</text>
<circle class="co" cx="1203.5" cy="1266.1" r="21.7"/>
<text class="ct" x="1203.5" y="1273.6">24</text>
<circle class="co" cx="1187.9" cy="1334.1" r="21.7"/>
<text class="ct" x="1187.9" y="1341.6">23</text>
<circle class="co" cx="726.1" cy="1355.1" r="21.7"/>
<text class="ct" x="726.1" y="1362.6">17</text>
<text class="ct" x="772.7" y="383">-</text>
<path class="n" d="M709.4 351.5 C709.8 350.4 710.2 346.4 712 345 C713.8 343.6 713.3 343.4 720 343 C726.7 342.6 745 343 752 342.6 C759 342.2 759.2 341.5 762 340.5 C764.8 339.5 766.8 336.2 768.6 336.4 C770.4 336.6 770.4 340 773 341.5 C775.6 343 776.2 345.1 784 345.6 C791.8 346.1 812.2 344.5 820 344.6 C827.8 344.8 828.3 344.7 831 346.5 C833.7 348.3 835.2 353.8 836 355.2"/>
<path class="n" d="M1038.7 381.7 L1067.2 419.3"/>
<path class="n" d="M352.5 470 L366.2 502.5"/>
<path class="n" d="M625 556 L640 573.8"/>
<path class="n" d="M503.8 652 L550 686.2"/>
<path class="n" d="M496.2 658.8 L555.5 781.2"/>
<path class="n" d="M795 634 L783 666"/>
<path class="n" d="M246 837.7 L269.3 881.3"/>
<path class="n" d="M1170.6 888.8 L1125.3 895.3"/>
<path class="n" d="M1186.6 1014.9 L1162.8 1020.3"/>
<path class="n" d="M735.9 1078.4 L746 1040"/>
<path class="n" d="M812.6 1167.2 L832.8 1135"/>
<path class="n" d="M848.5 1200.2 L863.4 1153.7"/>
<path class="n" d="M903.7 1229.1 L911.6 1198.4"/>
<path class="n" d="M917 1243 L968 1224"/>
<path class="n" d="M1128.5 1266.5 L1055 1180"/>
<path class="n" d="M1210 1245.3 L1273 1046"/>
<path class="n" d="M708.5 1342 L672 1314"/>
</svg>
</body></html>
